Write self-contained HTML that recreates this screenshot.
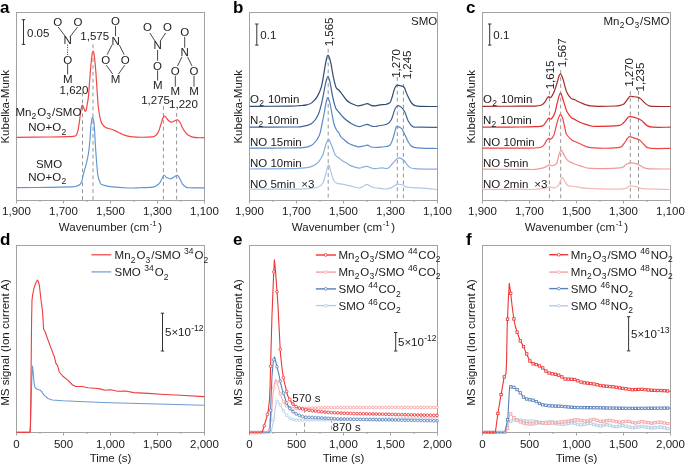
<!DOCTYPE html>
<html><head><meta charset="utf-8"><style>
html,body{margin:0;padding:0;background:#fff;}
svg{display:block;font-family:"Liberation Sans", sans-serif;filter:blur(0.3px);}
</style></head><body>
<svg width="685" height="465" viewBox="0 0 685 465">
<rect width="685" height="465" fill="#fff"/>
<rect x="16.5" y="12.5" width="188" height="188.0" fill="none" stroke="#a2a2a2" stroke-width="1"/>
<rect x="16.5" y="245.5" width="188" height="187.0" fill="none" stroke="#a2a2a2" stroke-width="1"/>
<rect x="249.5" y="12.5" width="188" height="188.0" fill="none" stroke="#a2a2a2" stroke-width="1"/>
<rect x="249.5" y="245.5" width="188" height="187.0" fill="none" stroke="#a2a2a2" stroke-width="1"/>
<rect x="482.5" y="12.5" width="188" height="188.0" fill="none" stroke="#a2a2a2" stroke-width="1"/>
<rect x="482.5" y="245.5" width="188" height="187.0" fill="none" stroke="#a2a2a2" stroke-width="1"/>
<text x="0.0" y="12.7" font-size="17" text-anchor="start" font-weight="bold" fill="#000" >a</text>
<text x="233.0" y="12.7" font-size="17" text-anchor="start" font-weight="bold" fill="#000" >b</text>
<text x="466.0" y="12.7" font-size="17" text-anchor="start" font-weight="bold" fill="#000" >c</text>
<text x="0.0" y="245.2" font-size="17" text-anchor="start" font-weight="bold" fill="#000" >d</text>
<text x="233.0" y="245.2" font-size="17" text-anchor="start" font-weight="bold" fill="#000" >e</text>
<text x="466.0" y="245.2" font-size="17" text-anchor="start" font-weight="bold" fill="#000" >f</text>
<line x1="16.50" y1="200.5" x2="16.50" y2="203.5" stroke="#a2a2a2" stroke-width="1"/>
<text x="16.50" y="215.1" font-size="11.5" text-anchor="middle" font-weight="normal" fill="#1a1a1a" >1,900</text>
<line x1="63.50" y1="200.5" x2="63.50" y2="203.5" stroke="#a2a2a2" stroke-width="1"/>
<text x="63.50" y="215.1" font-size="11.5" text-anchor="middle" font-weight="normal" fill="#1a1a1a" >1,700</text>
<line x1="110.50" y1="200.5" x2="110.50" y2="203.5" stroke="#a2a2a2" stroke-width="1"/>
<text x="110.50" y="215.1" font-size="11.5" text-anchor="middle" font-weight="normal" fill="#1a1a1a" >1,500</text>
<line x1="157.50" y1="200.5" x2="157.50" y2="203.5" stroke="#a2a2a2" stroke-width="1"/>
<text x="157.50" y="215.1" font-size="11.5" text-anchor="middle" font-weight="normal" fill="#1a1a1a" >1,300</text>
<line x1="204.50" y1="200.5" x2="204.50" y2="203.5" stroke="#a2a2a2" stroke-width="1"/>
<text x="204.50" y="215.1" font-size="11.5" text-anchor="middle" font-weight="normal" fill="#1a1a1a" >1,100</text>
<line x1="40.00" y1="200.5" x2="40.00" y2="202.0" stroke="#a2a2a2" stroke-width="1"/>
<line x1="87.00" y1="200.5" x2="87.00" y2="202.0" stroke="#a2a2a2" stroke-width="1"/>
<line x1="134.00" y1="200.5" x2="134.00" y2="202.0" stroke="#a2a2a2" stroke-width="1"/>
<line x1="181.00" y1="200.5" x2="181.00" y2="202.0" stroke="#a2a2a2" stroke-width="1"/>
<line x1="16.50" y1="432.5" x2="16.50" y2="435.5" stroke="#a2a2a2" stroke-width="1"/>
<text x="16.50" y="447.7" font-size="11.5" text-anchor="middle" font-weight="normal" fill="#1a1a1a" >0</text>
<line x1="63.50" y1="432.5" x2="63.50" y2="435.5" stroke="#a2a2a2" stroke-width="1"/>
<text x="63.50" y="447.7" font-size="11.5" text-anchor="middle" font-weight="normal" fill="#1a1a1a" >500</text>
<line x1="110.50" y1="432.5" x2="110.50" y2="435.5" stroke="#a2a2a2" stroke-width="1"/>
<text x="110.50" y="447.7" font-size="11.5" text-anchor="middle" font-weight="normal" fill="#1a1a1a" >1,000</text>
<line x1="157.50" y1="432.5" x2="157.50" y2="435.5" stroke="#a2a2a2" stroke-width="1"/>
<text x="157.50" y="447.7" font-size="11.5" text-anchor="middle" font-weight="normal" fill="#1a1a1a" >1,500</text>
<line x1="204.50" y1="432.5" x2="204.50" y2="435.5" stroke="#a2a2a2" stroke-width="1"/>
<text x="204.50" y="447.7" font-size="11.5" text-anchor="middle" font-weight="normal" fill="#1a1a1a" >2,000</text>
<line x1="40.00" y1="432.5" x2="40.00" y2="434.0" stroke="#a2a2a2" stroke-width="1"/>
<line x1="87.00" y1="432.5" x2="87.00" y2="434.0" stroke="#a2a2a2" stroke-width="1"/>
<line x1="134.00" y1="432.5" x2="134.00" y2="434.0" stroke="#a2a2a2" stroke-width="1"/>
<line x1="181.00" y1="432.5" x2="181.00" y2="434.0" stroke="#a2a2a2" stroke-width="1"/>
<text x="110.5" y="230.8" font-size="11.5" text-anchor="middle" fill="#1a1a1a">Wavenumber (cm<tspan dy="-4.6" font-size="8" dx="0.5">-1</tspan><tspan dy="4.6" dx="1.5">)</tspan></text>
<text x="110.5" y="461.7" font-size="11.5" text-anchor="middle" font-weight="normal" fill="#1a1a1a" >Time (s)</text>
<text x="0" y="0" font-size="11.5" text-anchor="middle" fill="#1a1a1a" transform="translate(8.7,106.8) rotate(-90)">Kubelka-Munk</text>
<text x="0" y="0" font-size="11.5" text-anchor="middle" fill="#1a1a1a" transform="translate(8.7,342.5) rotate(-90)">MS signal (Ion current A)</text>
<line x1="249.50" y1="200.5" x2="249.50" y2="203.5" stroke="#a2a2a2" stroke-width="1"/>
<text x="249.50" y="215.1" font-size="11.5" text-anchor="middle" font-weight="normal" fill="#1a1a1a" >1,900</text>
<line x1="296.50" y1="200.5" x2="296.50" y2="203.5" stroke="#a2a2a2" stroke-width="1"/>
<text x="296.50" y="215.1" font-size="11.5" text-anchor="middle" font-weight="normal" fill="#1a1a1a" >1,700</text>
<line x1="343.50" y1="200.5" x2="343.50" y2="203.5" stroke="#a2a2a2" stroke-width="1"/>
<text x="343.50" y="215.1" font-size="11.5" text-anchor="middle" font-weight="normal" fill="#1a1a1a" >1,500</text>
<line x1="390.50" y1="200.5" x2="390.50" y2="203.5" stroke="#a2a2a2" stroke-width="1"/>
<text x="390.50" y="215.1" font-size="11.5" text-anchor="middle" font-weight="normal" fill="#1a1a1a" >1,300</text>
<line x1="437.50" y1="200.5" x2="437.50" y2="203.5" stroke="#a2a2a2" stroke-width="1"/>
<text x="437.50" y="215.1" font-size="11.5" text-anchor="middle" font-weight="normal" fill="#1a1a1a" >1,100</text>
<line x1="273.00" y1="200.5" x2="273.00" y2="202.0" stroke="#a2a2a2" stroke-width="1"/>
<line x1="320.00" y1="200.5" x2="320.00" y2="202.0" stroke="#a2a2a2" stroke-width="1"/>
<line x1="367.00" y1="200.5" x2="367.00" y2="202.0" stroke="#a2a2a2" stroke-width="1"/>
<line x1="414.00" y1="200.5" x2="414.00" y2="202.0" stroke="#a2a2a2" stroke-width="1"/>
<line x1="249.50" y1="432.5" x2="249.50" y2="435.5" stroke="#a2a2a2" stroke-width="1"/>
<text x="249.50" y="447.7" font-size="11.5" text-anchor="middle" font-weight="normal" fill="#1a1a1a" >0</text>
<line x1="296.50" y1="432.5" x2="296.50" y2="435.5" stroke="#a2a2a2" stroke-width="1"/>
<text x="296.50" y="447.7" font-size="11.5" text-anchor="middle" font-weight="normal" fill="#1a1a1a" >500</text>
<line x1="343.50" y1="432.5" x2="343.50" y2="435.5" stroke="#a2a2a2" stroke-width="1"/>
<text x="343.50" y="447.7" font-size="11.5" text-anchor="middle" font-weight="normal" fill="#1a1a1a" >1,000</text>
<line x1="390.50" y1="432.5" x2="390.50" y2="435.5" stroke="#a2a2a2" stroke-width="1"/>
<text x="390.50" y="447.7" font-size="11.5" text-anchor="middle" font-weight="normal" fill="#1a1a1a" >1,500</text>
<line x1="437.50" y1="432.5" x2="437.50" y2="435.5" stroke="#a2a2a2" stroke-width="1"/>
<text x="437.50" y="447.7" font-size="11.5" text-anchor="middle" font-weight="normal" fill="#1a1a1a" >2,000</text>
<line x1="273.00" y1="432.5" x2="273.00" y2="434.0" stroke="#a2a2a2" stroke-width="1"/>
<line x1="320.00" y1="432.5" x2="320.00" y2="434.0" stroke="#a2a2a2" stroke-width="1"/>
<line x1="367.00" y1="432.5" x2="367.00" y2="434.0" stroke="#a2a2a2" stroke-width="1"/>
<line x1="414.00" y1="432.5" x2="414.00" y2="434.0" stroke="#a2a2a2" stroke-width="1"/>
<text x="343.5" y="230.8" font-size="11.5" text-anchor="middle" fill="#1a1a1a">Wavenumber (cm<tspan dy="-4.6" font-size="8" dx="0.5">-1</tspan><tspan dy="4.6" dx="1.5">)</tspan></text>
<text x="343.5" y="461.7" font-size="11.5" text-anchor="middle" font-weight="normal" fill="#1a1a1a" >Time (s)</text>
<text x="0" y="0" font-size="11.5" text-anchor="middle" fill="#1a1a1a" transform="translate(241.7,106.8) rotate(-90)">Kubelka-Munk</text>
<text x="0" y="0" font-size="11.5" text-anchor="middle" fill="#1a1a1a" transform="translate(241.7,342.5) rotate(-90)">MS signal (Ion current A)</text>
<line x1="482.50" y1="200.5" x2="482.50" y2="203.5" stroke="#a2a2a2" stroke-width="1"/>
<text x="482.50" y="215.1" font-size="11.5" text-anchor="middle" font-weight="normal" fill="#1a1a1a" >1,900</text>
<line x1="529.50" y1="200.5" x2="529.50" y2="203.5" stroke="#a2a2a2" stroke-width="1"/>
<text x="529.50" y="215.1" font-size="11.5" text-anchor="middle" font-weight="normal" fill="#1a1a1a" >1,700</text>
<line x1="576.50" y1="200.5" x2="576.50" y2="203.5" stroke="#a2a2a2" stroke-width="1"/>
<text x="576.50" y="215.1" font-size="11.5" text-anchor="middle" font-weight="normal" fill="#1a1a1a" >1,500</text>
<line x1="623.50" y1="200.5" x2="623.50" y2="203.5" stroke="#a2a2a2" stroke-width="1"/>
<text x="623.50" y="215.1" font-size="11.5" text-anchor="middle" font-weight="normal" fill="#1a1a1a" >1,300</text>
<line x1="670.50" y1="200.5" x2="670.50" y2="203.5" stroke="#a2a2a2" stroke-width="1"/>
<text x="670.50" y="215.1" font-size="11.5" text-anchor="middle" font-weight="normal" fill="#1a1a1a" >1,100</text>
<line x1="506.00" y1="200.5" x2="506.00" y2="202.0" stroke="#a2a2a2" stroke-width="1"/>
<line x1="553.00" y1="200.5" x2="553.00" y2="202.0" stroke="#a2a2a2" stroke-width="1"/>
<line x1="600.00" y1="200.5" x2="600.00" y2="202.0" stroke="#a2a2a2" stroke-width="1"/>
<line x1="647.00" y1="200.5" x2="647.00" y2="202.0" stroke="#a2a2a2" stroke-width="1"/>
<line x1="482.50" y1="432.5" x2="482.50" y2="435.5" stroke="#a2a2a2" stroke-width="1"/>
<text x="482.50" y="447.7" font-size="11.5" text-anchor="middle" font-weight="normal" fill="#1a1a1a" >0</text>
<line x1="529.50" y1="432.5" x2="529.50" y2="435.5" stroke="#a2a2a2" stroke-width="1"/>
<text x="529.50" y="447.7" font-size="11.5" text-anchor="middle" font-weight="normal" fill="#1a1a1a" >500</text>
<line x1="576.50" y1="432.5" x2="576.50" y2="435.5" stroke="#a2a2a2" stroke-width="1"/>
<text x="576.50" y="447.7" font-size="11.5" text-anchor="middle" font-weight="normal" fill="#1a1a1a" >1,000</text>
<line x1="623.50" y1="432.5" x2="623.50" y2="435.5" stroke="#a2a2a2" stroke-width="1"/>
<text x="623.50" y="447.7" font-size="11.5" text-anchor="middle" font-weight="normal" fill="#1a1a1a" >1,500</text>
<line x1="670.50" y1="432.5" x2="670.50" y2="435.5" stroke="#a2a2a2" stroke-width="1"/>
<text x="670.50" y="447.7" font-size="11.5" text-anchor="middle" font-weight="normal" fill="#1a1a1a" >2,000</text>
<line x1="506.00" y1="432.5" x2="506.00" y2="434.0" stroke="#a2a2a2" stroke-width="1"/>
<line x1="553.00" y1="432.5" x2="553.00" y2="434.0" stroke="#a2a2a2" stroke-width="1"/>
<line x1="600.00" y1="432.5" x2="600.00" y2="434.0" stroke="#a2a2a2" stroke-width="1"/>
<line x1="647.00" y1="432.5" x2="647.00" y2="434.0" stroke="#a2a2a2" stroke-width="1"/>
<text x="576.5" y="230.8" font-size="11.5" text-anchor="middle" fill="#1a1a1a">Wavenumber (cm<tspan dy="-4.6" font-size="8" dx="0.5">-1</tspan><tspan dy="4.6" dx="1.5">)</tspan></text>
<text x="576.5" y="461.7" font-size="11.5" text-anchor="middle" font-weight="normal" fill="#1a1a1a" >Time (s)</text>
<text x="0" y="0" font-size="11.5" text-anchor="middle" fill="#1a1a1a" transform="translate(474.7,106.8) rotate(-90)">Kubelka-Munk</text>
<text x="0" y="0" font-size="11.5" text-anchor="middle" fill="#1a1a1a" transform="translate(474.7,342.5) rotate(-90)">MS signal (Ion current A)</text>
<line x1="82.5" y1="92.6" x2="82.5" y2="200" stroke="#959595" stroke-width="1" stroke-dasharray="3.8,3.1"/>
<line x1="93.0" y1="44.3" x2="93.0" y2="200" stroke="#959595" stroke-width="1" stroke-dasharray="3.8,3.1"/>
<line x1="163.4" y1="106.1" x2="163.4" y2="200" stroke="#959595" stroke-width="1" stroke-dasharray="3.8,3.1"/>
<line x1="176.6" y1="113.0" x2="176.6" y2="200" stroke="#959595" stroke-width="1" stroke-dasharray="3.8,3.1"/>
<line x1="23.5" y1="19.7" x2="23.5" y2="44.4" stroke="#333" stroke-width="1"/>
<line x1="21.8" y1="19.7" x2="25.2" y2="19.7" stroke="#333" stroke-width="1"/>
<line x1="21.8" y1="44.4" x2="25.2" y2="44.4" stroke="#333" stroke-width="1"/>
<text x="27" y="36.9" font-size="11.5" text-anchor="start" font-weight="normal" fill="#1a1a1a" >0.05</text>
<path d="M17.00,137.30 C22.50,137.25 41.50,137.12 50.00,137.00 C58.50,136.88 63.85,136.75 68.00,136.60 C72.15,136.45 73.43,136.50 74.90,136.10 C76.37,135.70 76.23,135.40 76.80,134.20 C77.37,133.00 77.83,131.23 78.30,128.90 C78.77,126.57 79.20,123.10 79.60,120.20 C80.00,117.30 80.35,113.77 80.70,111.50 C81.05,109.23 81.38,107.65 81.70,106.60 C82.02,105.55 82.25,104.95 82.60,105.20 C82.95,105.45 83.38,107.08 83.80,108.10 C84.22,109.12 84.68,111.07 85.10,111.30 C85.52,111.53 85.90,110.93 86.30,109.50 C86.70,108.07 87.13,104.95 87.50,102.70 C87.87,100.45 88.02,101.28 88.50,96.00 C88.98,90.72 89.82,77.83 90.40,71.00 C90.98,64.17 91.55,58.33 92.00,55.00 C92.45,51.67 92.73,51.00 93.10,51.00 C93.47,51.00 93.77,51.83 94.20,55.00 C94.63,58.17 95.20,63.83 95.70,70.00 C96.20,76.17 96.80,86.22 97.20,92.00 C97.60,97.78 97.70,100.78 98.10,104.70 C98.50,108.62 99.12,112.70 99.60,115.50 C100.08,118.30 100.50,119.98 101.00,121.50 C101.50,123.02 101.88,123.65 102.60,124.60 C103.32,125.55 104.42,126.58 105.30,127.20 C106.18,127.82 106.88,127.97 107.90,128.30 C108.92,128.63 110.38,128.87 111.40,129.20 C112.42,129.53 112.98,129.83 114.00,130.30 C115.02,130.77 116.33,131.45 117.50,132.00 C118.67,132.55 119.83,133.08 121.00,133.60 C122.17,134.12 123.33,134.67 124.50,135.10 C125.67,135.53 125.98,135.85 128.00,136.20 C130.02,136.55 132.53,137.10 136.60,137.20 C140.67,137.30 149.12,137.20 152.40,136.80 C155.68,136.40 155.23,135.77 156.30,134.80 C157.37,133.83 158.02,132.80 158.80,131.00 C159.58,129.20 160.33,126.08 161.00,124.00 C161.67,121.92 162.25,119.82 162.80,118.50 C163.35,117.18 163.72,116.22 164.30,116.10 C164.88,115.98 165.55,117.02 166.30,117.80 C167.05,118.58 167.95,120.07 168.80,120.80 C169.65,121.53 170.48,122.17 171.40,122.20 C172.32,122.23 173.27,121.40 174.30,121.00 C175.33,120.60 176.63,119.55 177.60,119.80 C178.57,120.05 179.27,121.13 180.10,122.50 C180.93,123.87 181.65,126.28 182.60,128.00 C183.55,129.72 184.73,131.53 185.80,132.80 C186.87,134.07 187.83,134.88 189.00,135.60 C190.17,136.32 191.37,136.75 192.80,137.10 C194.23,137.45 195.73,137.60 197.60,137.70 C199.47,137.80 202.93,137.70 204.00,137.70" fill="none" stroke="#f24646" stroke-width="1.2" stroke-linejoin="round" stroke-linecap="round" />
<path d="M17.00,187.60 C22.50,187.57 41.17,187.52 50.00,187.40 C58.83,187.28 65.75,187.05 70.00,186.90 C74.25,186.75 73.85,186.90 75.50,186.50 C77.15,186.10 78.85,185.37 79.90,184.50 C80.95,183.63 81.27,182.80 81.80,181.30 C82.33,179.80 82.45,178.08 83.10,175.50 C83.75,172.92 84.95,168.70 85.70,165.80 C86.45,162.90 87.07,160.68 87.60,158.10 C88.13,155.52 88.52,153.32 88.90,150.30 C89.28,147.28 89.57,144.05 89.90,140.00 C90.23,135.95 90.58,129.42 90.90,126.00 C91.22,122.58 91.53,120.98 91.80,119.50 C92.07,118.02 92.25,117.10 92.50,117.10 C92.75,117.10 93.00,118.02 93.30,119.50 C93.60,120.98 93.95,121.75 94.30,126.00 C94.65,130.25 95.02,139.00 95.40,145.00 C95.78,151.00 96.18,156.92 96.60,162.00 C97.02,167.08 97.35,172.17 97.90,175.50 C98.45,178.83 99.27,180.48 99.90,182.00 C100.53,183.52 100.02,183.83 101.70,184.60 C103.38,185.37 105.62,186.03 110.00,186.60 C114.38,187.17 123.00,187.82 128.00,188.00 C133.00,188.18 135.97,187.85 140.00,187.70 C144.03,187.55 149.52,187.42 152.20,187.10 C154.88,186.78 154.83,186.52 156.10,185.80 C157.37,185.08 158.80,184.02 159.80,182.80 C160.80,181.58 161.38,179.75 162.10,178.50 C162.82,177.25 163.35,175.47 164.10,175.30 C164.85,175.13 165.53,176.88 166.60,177.50 C167.67,178.12 169.25,179.08 170.50,179.00 C171.75,178.92 172.95,177.62 174.10,177.00 C175.25,176.38 176.43,174.97 177.40,175.30 C178.37,175.63 179.07,177.57 179.90,179.00 C180.73,180.43 181.45,182.60 182.40,183.90 C183.35,185.20 184.53,186.15 185.60,186.80 C186.67,187.45 185.73,187.63 188.80,187.80 C191.87,187.97 201.47,187.80 204.00,187.80" fill="none" stroke="#5f95d5" stroke-width="1.15" stroke-linejoin="round" stroke-linecap="round" />
<text x="48.4" y="115.6" font-size="11.5" text-anchor="middle" font-weight="normal" fill="#1a1a1a" >Mn<tspan font-size="8.5" dx="0.2" dy="3.40">2</tspan><tspan dx="0.9" dy="-3.40">O</tspan><tspan font-size="8.5" dx="0.2" dy="3.40">3</tspan><tspan dx="0.9" dy="-3.40">/SMO</tspan></text>
<text x="47.2" y="131.4" font-size="11.5" text-anchor="middle" font-weight="normal" fill="#1a1a1a" >NO+O<tspan font-size="8.5" dx="0.2" dy="3.40">2</tspan></text>
<text x="49.0" y="167.7" font-size="11.5" text-anchor="middle" font-weight="normal" fill="#1a1a1a" >SMO</text>
<text x="47.2" y="180.9" font-size="11.5" text-anchor="middle" font-weight="normal" fill="#1a1a1a" >NO+O<tspan font-size="8.5" dx="0.2" dy="3.40">2</tspan></text>
<text x="94.7" y="40.1" font-size="11.5" text-anchor="middle" font-weight="normal" fill="#1a1a1a" >1,575</text>
<text x="74.0" y="93.7" font-size="11.5" text-anchor="middle" font-weight="normal" fill="#1a1a1a" >1,620</text>
<text x="155.6" y="104.4" font-size="11.5" text-anchor="middle" font-weight="normal" fill="#1a1a1a" >1,275</text>
<text x="183.5" y="108.2" font-size="11.5" text-anchor="middle" font-weight="normal" fill="#1a1a1a" >1,220</text>
<text x="57.8" y="25.7" font-size="11.5" text-anchor="middle" font-weight="normal" fill="#222" >O</text>
<text x="78" y="25.7" font-size="11.5" text-anchor="middle" font-weight="normal" fill="#222" >O</text>
<text x="67.6" y="44.2" font-size="11.5" text-anchor="middle" font-weight="normal" fill="#222" >N</text>
<text x="67.8" y="63.8" font-size="11.5" text-anchor="middle" font-weight="normal" fill="#222" >O</text>
<text x="67.9" y="83.4" font-size="11.5" text-anchor="middle" font-weight="normal" fill="#222" >M</text>
<line x1="58.2" y1="27" x2="65.1" y2="36.1" stroke="#333" stroke-width="0.9"/>
<line x1="77.5" y1="27" x2="70.2" y2="36.5" stroke="#333" stroke-width="0.9"/>
<line x1="67.6" y1="44.5" x2="67.6" y2="55" stroke="#333" stroke-width="0.9" stroke-dasharray="1.2,1.2"/>
<line x1="67.6" y1="64.1" x2="67.6" y2="74.5" stroke="#333" stroke-width="0.9"/>
<text x="115.6" y="25.4" font-size="11.5" text-anchor="middle" font-weight="normal" fill="#222" >O</text>
<text x="115.6" y="44.6" font-size="11.5" text-anchor="middle" font-weight="normal" fill="#222" >N</text>
<text x="105.7" y="63.9" font-size="11.5" text-anchor="middle" font-weight="normal" fill="#222" >O</text>
<text x="125.3" y="63.9" font-size="11.5" text-anchor="middle" font-weight="normal" fill="#222" >O</text>
<text x="115.6" y="83.0" font-size="11.5" text-anchor="middle" font-weight="normal" fill="#222" >M</text>
<line x1="115.5" y1="25.8" x2="115.5" y2="36.2" stroke="#333" stroke-width="0.9"/>
<line x1="111.9" y1="45.1" x2="107.1" y2="54.7" stroke="#333" stroke-width="0.9"/>
<line x1="119.4" y1="45.1" x2="124.2" y2="54.7" stroke="#333" stroke-width="0.9"/>
<line x1="106.3" y1="65.2" x2="112.7" y2="74.1" stroke="#333" stroke-width="0.9"/>
<line x1="124.7" y1="65.2" x2="118.5" y2="74.1" stroke="#333" stroke-width="0.9"/>
<text x="147.6" y="31.2" font-size="11.5" text-anchor="middle" font-weight="normal" fill="#222" >O</text>
<text x="167.5" y="31.2" font-size="11.5" text-anchor="middle" font-weight="normal" fill="#222" >O</text>
<text x="157.6" y="49.3" font-size="11.5" text-anchor="middle" font-weight="normal" fill="#222" >N</text>
<text x="157.5" y="69.5" font-size="11.5" text-anchor="middle" font-weight="normal" fill="#222" >O</text>
<text x="157.7" y="89.4" font-size="11.5" text-anchor="middle" font-weight="normal" fill="#222" >M</text>
<line x1="149.8" y1="33" x2="155" y2="41" stroke="#333" stroke-width="0.9"/>
<line x1="165.6" y1="33" x2="160.3" y2="41" stroke="#333" stroke-width="0.9"/>
<line x1="157.6" y1="50" x2="157.6" y2="60.8" stroke="#333" stroke-width="0.9"/>
<line x1="157.6" y1="70.3" x2="157.6" y2="80.6" stroke="#333" stroke-width="0.9"/>
<text x="184.7" y="36.3" font-size="11.5" text-anchor="middle" font-weight="normal" fill="#222" >O</text>
<text x="184.7" y="56.2" font-size="11.5" text-anchor="middle" font-weight="normal" fill="#222" >N</text>
<text x="175.3" y="75.0" font-size="11.5" text-anchor="middle" font-weight="normal" fill="#222" >O</text>
<text x="194" y="75.0" font-size="11.5" text-anchor="middle" font-weight="normal" fill="#222" >O</text>
<text x="175.3" y="95.4" font-size="11.5" text-anchor="middle" font-weight="normal" fill="#222" >M</text>
<text x="194" y="95.4" font-size="11.5" text-anchor="middle" font-weight="normal" fill="#222" >M</text>
<line x1="184.7" y1="36.8" x2="184.7" y2="47.8" stroke="#333" stroke-width="0.9"/>
<line x1="182" y1="56.8" x2="177.5" y2="66" stroke="#333" stroke-width="0.9"/>
<line x1="187.5" y1="56.8" x2="192" y2="66" stroke="#333" stroke-width="0.9"/>
<line x1="175.3" y1="75.6" x2="175.3" y2="86.6" stroke="#333" stroke-width="0.9"/>
<line x1="194" y1="75.6" x2="194" y2="86.6" stroke="#333" stroke-width="0.9"/>
<line x1="328.2" y1="48.8" x2="328.2" y2="200" stroke="#959595" stroke-width="1" stroke-dasharray="3.8,3.1"/>
<line x1="397.3" y1="77.0" x2="397.3" y2="200" stroke="#959595" stroke-width="1" stroke-dasharray="3.8,3.1"/>
<line x1="403.4" y1="84.0" x2="403.4" y2="200" stroke="#959595" stroke-width="1" stroke-dasharray="3.8,3.1"/>
<line x1="256.8" y1="24.0" x2="256.8" y2="45.1" stroke="#333" stroke-width="1"/>
<line x1="255.10000000000002" y1="24.0" x2="258.5" y2="24.0" stroke="#333" stroke-width="1"/>
<line x1="255.10000000000002" y1="45.1" x2="258.5" y2="45.1" stroke="#333" stroke-width="1"/>
<text x="260.3" y="39.0" font-size="11.5" text-anchor="start" font-weight="normal" fill="#1a1a1a" >0.1</text>
<text x="437.2" y="25.2" font-size="11.5" text-anchor="end" font-weight="normal" fill="#1a1a1a" >SMO</text>
<text x="0" y="0" font-size="11.5" text-anchor="middle" fill="#1a1a1a" transform="translate(332.7,31.9) rotate(-90)">1,565</text>
<text x="0" y="0" font-size="11.5" text-anchor="middle" fill="#1a1a1a" transform="translate(399.6,63.4) rotate(-90)">1,270</text>
<text x="0" y="0" font-size="11.5" text-anchor="middle" fill="#1a1a1a" transform="translate(410.5,64.9) rotate(-90)">1,245</text>
<path d="M250.00,189.20 C256.67,189.18 280.83,189.17 290.00,189.10 C299.17,189.03 300.40,189.10 305.00,188.80 C309.60,188.50 314.67,188.18 317.60,187.30 C320.53,186.42 321.25,185.72 322.60,183.50 C323.95,181.28 324.70,177.12 325.70,174.00 C326.70,170.88 327.72,165.12 328.60,164.80 C329.48,164.48 330.15,169.47 331.00,172.10 C331.85,174.73 332.77,178.77 333.70,180.60 C334.63,182.43 335.02,182.47 336.60,183.10 C338.18,183.73 340.68,183.87 343.20,184.40 C345.72,184.93 349.02,185.70 351.70,186.30 C354.38,186.90 357.33,188.02 359.30,188.00 C361.27,187.98 362.23,186.80 363.50,186.20 C364.77,185.60 365.38,184.22 366.90,184.40 C368.42,184.58 370.70,186.67 372.60,187.30 C374.50,187.93 376.08,187.92 378.30,188.20 C380.52,188.48 383.68,189.10 385.90,189.00 C388.12,188.90 389.70,188.37 391.60,187.60 C393.50,186.83 395.40,184.83 397.30,184.40 C399.20,183.97 401.58,184.58 403.00,185.00 C404.42,185.42 404.22,186.47 405.80,186.90 C407.38,187.33 409.48,187.38 412.50,187.60 C415.52,187.82 419.82,187.88 423.90,188.20 C427.98,188.52 434.82,189.28 437.00,189.50" fill="none" stroke="#abc8e9" stroke-width="1.2" stroke-linejoin="round" stroke-linecap="round" />
<path d="M250.00,169.00 C256.67,168.93 281.67,168.73 290.00,168.60 C298.33,168.47 296.72,168.45 300.00,168.20 C303.28,167.95 306.77,167.97 309.70,167.10 C312.63,166.23 315.50,164.85 317.60,163.00 C319.70,161.15 321.20,158.08 322.30,156.00 C323.40,153.92 323.57,152.52 324.20,150.50 C324.83,148.48 325.37,145.75 326.10,143.90 C326.83,142.05 327.78,139.40 328.60,139.40 C329.42,139.40 330.12,141.87 331.00,143.90 C331.88,145.93 333.13,149.67 333.90,151.60 C334.67,153.53 334.80,154.47 335.60,155.50 C336.40,156.53 337.58,156.93 338.70,157.80 C339.82,158.67 341.02,159.83 342.30,160.70 C343.58,161.57 345.15,162.22 346.40,163.00 C347.65,163.78 348.53,164.77 349.80,165.40 C351.07,166.03 352.42,166.35 354.00,166.80 C355.58,167.25 357.80,168.07 359.30,168.10 C360.80,168.13 361.73,167.28 363.00,167.00 C364.27,166.72 365.65,166.30 366.90,166.40 C368.15,166.50 369.23,167.23 370.50,167.60 C371.77,167.97 372.57,168.55 374.50,168.60 C376.43,168.65 379.88,167.95 382.10,167.90 C384.32,167.85 386.07,169.03 387.80,168.30 C389.53,167.57 390.92,165.15 392.50,163.50 C394.08,161.85 395.87,159.25 397.30,158.40 C398.73,157.55 399.83,157.87 401.10,158.40 C402.37,158.93 403.63,160.27 404.90,161.60 C406.17,162.93 407.12,165.22 408.70,166.40 C410.28,167.58 409.68,168.23 414.40,168.70 C419.12,169.17 433.23,169.12 437.00,169.20" fill="none" stroke="#86addc" stroke-width="1.2" stroke-linejoin="round" stroke-linecap="round" />
<path d="M250.00,148.20 C256.67,148.17 281.67,148.07 290.00,148.00 C298.33,147.93 297.05,148.00 300.00,147.80 C302.95,147.60 305.45,147.45 307.70,146.80 C309.95,146.15 311.55,145.83 313.50,143.90 C315.45,141.97 317.98,138.52 319.40,135.20 C320.82,131.88 321.20,127.70 322.00,124.00 C322.80,120.30 323.50,116.67 324.20,113.00 C324.90,109.33 325.57,104.57 326.20,102.00 C326.83,99.43 327.33,97.22 328.00,97.60 C328.67,97.98 329.53,101.57 330.20,104.30 C330.87,107.03 331.37,110.72 332.00,114.00 C332.63,117.28 333.25,121.33 334.00,124.00 C334.75,126.67 335.72,128.58 336.50,130.00 C337.28,131.42 337.95,131.33 338.70,132.50 C339.45,133.67 340.12,135.83 341.00,137.00 C341.88,138.17 342.77,138.45 344.00,139.50 C345.23,140.55 346.90,142.35 348.40,143.30 C349.90,144.25 351.38,144.62 353.00,145.20 C354.62,145.78 356.43,146.63 358.10,146.80 C359.77,146.97 361.43,146.47 363.00,146.20 C364.57,145.93 366.17,145.07 367.50,145.20 C368.83,145.33 369.72,146.62 371.00,147.00 C372.28,147.38 373.70,147.47 375.20,147.50 C376.70,147.53 377.70,147.48 380.00,147.20 C382.30,146.92 386.93,146.98 389.00,145.80 C391.07,144.62 391.27,143.00 392.40,140.10 C393.53,137.20 395.05,130.65 395.80,128.40 C396.55,126.15 395.97,126.60 396.90,126.60 C397.83,126.60 400.08,127.08 401.40,128.40 C402.72,129.72 403.48,131.98 404.80,134.50 C406.12,137.02 407.60,141.32 409.30,143.50 C411.00,145.68 410.38,146.77 415.00,147.60 C419.62,148.43 433.33,148.35 437.00,148.50" fill="none" stroke="#5a8bc8" stroke-width="1.2" stroke-linejoin="round" stroke-linecap="round" />
<path d="M250.00,127.20 C256.67,127.17 281.67,127.07 290.00,127.00 C298.33,126.93 297.12,127.07 300.00,126.80 C302.88,126.53 305.17,126.10 307.30,125.40 C309.43,124.70 310.97,124.43 312.80,122.60 C314.63,120.77 316.77,117.90 318.30,114.40 C319.83,110.90 320.78,106.78 322.00,101.60 C323.22,96.42 324.60,87.52 325.60,83.30 C326.60,79.08 327.23,76.30 328.00,76.30 C328.77,76.30 329.38,79.70 330.20,83.30 C331.02,86.90 331.98,93.78 332.90,97.90 C333.82,102.02 334.78,105.72 335.70,108.00 C336.62,110.28 337.03,109.93 338.40,111.60 C339.77,113.27 341.77,116.02 343.90,118.00 C346.03,119.98 348.78,122.08 351.20,123.50 C353.62,124.92 356.43,126.17 358.40,126.50 C360.37,126.83 361.48,125.87 363.00,125.50 C364.52,125.13 366.17,124.22 367.50,124.30 C368.83,124.38 369.72,125.63 371.00,126.00 C372.28,126.37 373.70,126.58 375.20,126.50 C376.70,126.42 378.07,125.87 380.00,125.50 C381.93,125.13 384.92,125.25 386.80,124.30 C388.68,123.35 389.98,122.23 391.30,119.80 C392.62,117.37 393.65,112.03 394.70,109.70 C395.75,107.37 396.48,106.18 397.60,105.80 C398.72,105.42 400.20,106.38 401.40,107.40 C402.60,108.42 403.67,109.63 404.80,111.90 C405.93,114.17 406.88,118.55 408.20,121.00 C409.52,123.45 410.73,125.57 412.70,126.60 C414.67,127.63 415.95,127.08 420.00,127.20 C424.05,127.32 434.17,127.28 437.00,127.30" fill="none" stroke="#3e6599" stroke-width="1.2" stroke-linejoin="round" stroke-linecap="round" />
<path d="M250.00,106.30 C256.67,106.27 281.67,106.22 290.00,106.10 C298.33,105.98 297.18,105.82 300.00,105.60 C302.82,105.38 304.90,105.30 306.90,104.80 C308.90,104.30 310.28,103.97 312.00,102.60 C313.72,101.23 315.62,99.32 317.20,96.60 C318.78,93.88 320.22,91.18 321.50,86.30 C322.78,81.42 324.05,71.93 324.90,67.30 C325.75,62.67 326.08,60.55 326.60,58.50 C327.12,56.45 327.52,55.08 328.00,55.00 C328.48,54.92 329.00,56.52 329.50,58.00 C330.00,59.48 330.33,60.62 331.00,63.90 C331.67,67.18 332.65,73.77 333.50,77.70 C334.35,81.63 335.23,85.45 336.10,87.50 C336.97,89.55 337.83,89.07 338.70,90.00 C339.57,90.93 340.02,91.43 341.30,93.10 C342.58,94.77 344.87,98.35 346.40,100.00 C347.93,101.65 349.07,102.17 350.50,103.00 C351.93,103.83 353.68,104.53 355.00,105.00 C356.32,105.47 357.07,105.83 358.40,105.80 C359.73,105.77 361.48,105.17 363.00,104.80 C364.52,104.43 366.17,103.52 367.50,103.60 C368.83,103.68 369.72,104.93 371.00,105.30 C372.28,105.67 373.70,105.88 375.20,105.80 C376.70,105.72 378.28,105.02 380.00,104.80 C381.72,104.58 384.08,104.73 385.50,104.50 C386.92,104.27 387.70,103.78 388.50,103.40 C389.30,103.02 389.73,103.12 390.30,102.20 C390.87,101.28 391.37,99.58 391.90,97.90 C392.43,96.22 392.95,93.88 393.50,92.10 C394.05,90.32 394.58,88.37 395.20,87.20 C395.82,86.03 396.45,85.35 397.20,85.10 C397.95,84.85 398.75,85.50 399.70,85.70 C400.65,85.90 402.10,85.93 402.90,86.30 C403.70,86.67 403.97,86.93 404.50,87.90 C405.03,88.87 405.52,90.65 406.10,92.10 C406.68,93.55 407.35,95.20 408.00,96.60 C408.65,98.00 409.33,99.35 410.00,100.50 C410.67,101.65 411.15,102.65 412.00,103.50 C412.85,104.35 413.77,105.12 415.10,105.60 C416.43,106.08 416.35,106.25 420.00,106.40 C423.65,106.55 434.17,106.48 437.00,106.50" fill="none" stroke="#2f4b70" stroke-width="1.2" stroke-linejoin="round" stroke-linecap="round" />
<text x="250.0" y="102.9" font-size="11.5" text-anchor="start" font-weight="normal" fill="#1a1a1a" >O<tspan font-size="8.5" dx="0.2" dy="3.40">2</tspan><tspan dx="0.9" dy="-3.40"> 10min</tspan></text>
<text x="250.0" y="123.8" font-size="11.5" text-anchor="start" font-weight="normal" fill="#1a1a1a" >N<tspan font-size="8.5" dx="0.2" dy="3.40">2</tspan><tspan dx="0.9" dy="-3.40"> 10min</tspan></text>
<text x="250.0" y="146.2" font-size="11.5" text-anchor="start" font-weight="normal" fill="#1a1a1a" >NO 15min</text>
<text x="250.0" y="167.2" font-size="11.5" text-anchor="start" font-weight="normal" fill="#1a1a1a" >NO 10min</text>
<text x="250.0" y="188.2" font-size="11.5" text-anchor="start" font-weight="normal" fill="#1a1a1a" >NO 5min <tspan dx="2.6">×3</tspan></text>
<line x1="549.4" y1="90.8" x2="549.4" y2="200" stroke="#959595" stroke-width="1" stroke-dasharray="3.8,3.1"/>
<line x1="560.7" y1="70.2" x2="560.7" y2="200" stroke="#959595" stroke-width="1" stroke-dasharray="3.8,3.1"/>
<line x1="630.3" y1="91.0" x2="630.3" y2="200" stroke="#959595" stroke-width="1" stroke-dasharray="3.8,3.1"/>
<line x1="638.5" y1="91.0" x2="638.5" y2="200" stroke="#959595" stroke-width="1" stroke-dasharray="3.8,3.1"/>
<line x1="489.7" y1="24.0" x2="489.7" y2="45.1" stroke="#333" stroke-width="1"/>
<line x1="488.0" y1="24.0" x2="491.4" y2="24.0" stroke="#333" stroke-width="1"/>
<line x1="488.0" y1="45.1" x2="491.4" y2="45.1" stroke="#333" stroke-width="1"/>
<text x="493.3" y="39.0" font-size="11.5" text-anchor="start" font-weight="normal" fill="#1a1a1a" >0.1</text>
<text x="669.5" y="24.9" font-size="11.5" text-anchor="end" font-weight="normal" fill="#1a1a1a" >Mn<tspan font-size="8.5" dx="0.2" dy="3.40">2</tspan><tspan dx="0.9" dy="-3.40">O</tspan><tspan font-size="8.5" dx="0.2" dy="3.40">3</tspan><tspan dx="0.9" dy="-3.40">/SMO</tspan></text>
<text x="0" y="0" font-size="11.5" text-anchor="middle" fill="#1a1a1a" transform="translate(554.0,74.9) rotate(-90)">1,615</text>
<text x="0" y="0" font-size="11.5" text-anchor="middle" fill="#1a1a1a" transform="translate(565.9,52.8) rotate(-90)">1,567</text>
<text x="0" y="0" font-size="11.5" text-anchor="middle" fill="#1a1a1a" transform="translate(633.2,72.4) rotate(-90)">1,270</text>
<text x="0" y="0" font-size="11.5" text-anchor="middle" fill="#1a1a1a" transform="translate(644.1,77.0) rotate(-90)">1,235</text>
<path d="M483.00,189.40 C489.17,189.40 511.33,189.40 520.00,189.40 C528.67,189.40 530.75,189.65 535.00,189.40 C539.25,189.15 543.12,188.33 545.50,187.90 C547.88,187.47 547.80,186.80 549.30,186.80 C550.80,186.80 553.00,188.10 554.50,187.90 C556.00,187.70 557.28,186.85 558.30,185.60 C559.32,184.35 559.92,181.77 560.60,180.40 C561.28,179.03 561.78,177.40 562.40,177.40 C563.02,177.40 563.35,179.03 564.30,180.40 C565.25,181.77 565.97,184.53 568.10,185.60 C570.23,186.67 573.85,186.35 577.10,186.80 C580.35,187.25 580.05,187.95 587.60,188.30 C595.15,188.65 615.47,189.30 622.40,188.90 C629.33,188.50 626.93,186.28 629.20,185.90 C631.47,185.52 633.75,186.15 636.00,186.60 C638.25,187.05 637.03,188.12 642.70,188.60 C648.37,189.08 665.45,189.35 670.00,189.50" fill="none" stroke="#f6b9b9" stroke-width="1.2" stroke-linejoin="round" stroke-linecap="round" />
<path d="M483.00,169.20 C489.17,169.22 511.33,169.27 520.00,169.30 C528.67,169.33 531.00,169.68 535.00,169.40 C539.00,169.12 542.00,168.15 544.00,167.60 C546.00,167.05 546.12,166.55 547.00,166.10 C547.88,165.65 548.42,164.95 549.30,164.90 C550.18,164.85 551.05,166.10 552.30,165.80 C553.55,165.50 555.67,165.05 556.80,163.10 C557.93,161.15 558.35,156.23 559.10,154.10 C559.85,151.97 560.55,150.30 561.30,150.30 C562.05,150.30 562.60,152.47 563.60,154.10 C564.60,155.73 565.55,158.48 567.30,160.10 C569.05,161.72 571.68,162.77 574.10,163.80 C576.52,164.83 579.02,165.53 581.80,166.30 C584.58,167.07 584.42,168.13 590.80,168.40 C597.18,168.67 614.27,168.55 620.10,167.90 C625.93,167.25 624.10,165.33 625.80,164.50 C627.50,163.67 628.60,163.05 630.30,162.90 C632.00,162.75 634.30,163.15 636.00,163.60 C637.70,164.05 638.63,164.77 640.50,165.60 C642.37,166.43 642.28,168.03 647.20,168.60 C652.12,169.17 666.20,168.93 670.00,169.00" fill="none" stroke="#f39797" stroke-width="1.2" stroke-linejoin="round" stroke-linecap="round" />
<path d="M483.00,148.20 C489.17,148.18 511.33,148.13 520.00,148.10 C528.67,148.07 531.50,148.13 535.00,148.00 C538.50,147.87 539.50,147.80 541.00,147.30 C542.50,146.80 543.00,146.25 544.00,145.00 C545.00,143.75 546.17,140.92 547.00,139.80 C547.83,138.68 548.37,138.38 549.00,138.30 C549.63,138.22 550.00,139.80 550.80,139.30 C551.60,138.80 552.85,137.68 553.80,135.30 C554.75,132.92 555.72,127.88 556.50,125.00 C557.28,122.12 557.85,119.77 558.50,118.00 C559.15,116.23 559.73,114.40 560.40,114.40 C561.07,114.40 561.82,116.07 562.50,118.00 C563.18,119.93 563.82,123.25 564.50,126.00 C565.18,128.75 565.25,132.08 566.60,134.50 C567.95,136.92 571.20,139.33 572.60,140.50 C574.00,141.67 573.50,140.83 575.00,141.50 C576.50,142.17 578.97,143.48 581.60,144.50 C584.23,145.52 584.75,147.08 590.80,147.60 C596.85,148.12 612.45,148.17 617.90,147.60 C623.35,147.03 621.92,145.72 623.50,144.20 C625.08,142.68 626.38,139.75 627.40,138.50 C628.42,137.25 628.55,136.80 629.60,136.70 C630.65,136.60 632.08,137.40 633.70,137.90 C635.32,138.40 637.62,138.65 639.30,139.70 C640.98,140.75 642.10,142.78 643.80,144.20 C645.50,145.62 645.13,147.50 649.50,148.20 C653.87,148.90 666.58,148.37 670.00,148.40" fill="none" stroke="#f04646" stroke-width="1.2" stroke-linejoin="round" stroke-linecap="round" />
<path d="M483.00,127.20 C489.17,127.17 511.33,127.08 520.00,127.00 C528.67,126.92 531.22,126.88 535.00,126.70 C538.78,126.52 540.83,126.75 542.70,125.90 C544.57,125.05 545.18,122.90 546.20,121.60 C547.22,120.30 547.95,118.53 548.80,118.10 C549.65,117.67 550.30,119.85 551.30,119.00 C552.30,118.15 553.80,115.72 554.80,113.00 C555.80,110.28 556.37,106.00 557.30,102.70 C558.23,99.40 559.38,93.50 560.40,93.20 C561.42,92.90 562.33,97.88 563.40,100.90 C564.47,103.92 565.52,108.57 566.80,111.30 C568.08,114.03 569.73,115.92 571.10,117.30 C572.47,118.68 573.22,118.65 575.00,119.60 C576.78,120.55 579.30,122.00 581.80,123.00 C584.30,124.00 587.80,125.05 590.00,125.60 C592.20,126.15 590.35,126.28 595.00,126.30 C599.65,126.32 613.15,126.30 617.90,125.70 C622.65,125.10 621.82,124.07 623.50,122.70 C625.18,121.33 626.87,118.52 628.00,117.50 C629.13,116.48 628.78,116.48 630.30,116.60 C631.82,116.72 635.22,117.55 637.10,118.20 C638.98,118.85 639.92,119.25 641.60,120.50 C643.28,121.75 645.32,124.58 647.20,125.70 C649.08,126.82 649.10,126.95 652.90,127.20 C656.70,127.45 667.15,127.20 670.00,127.20" fill="none" stroke="#e62e2e" stroke-width="1.2" stroke-linejoin="round" stroke-linecap="round" />
<path d="M483.00,106.30 C489.17,106.28 511.33,106.23 520.00,106.20 C528.67,106.17 531.50,106.27 535.00,106.10 C538.50,105.93 539.42,105.77 541.00,105.20 C542.58,104.63 543.50,103.83 544.50,102.70 C545.50,101.57 546.28,99.42 547.00,98.40 C547.72,97.38 548.17,96.75 548.80,96.60 C549.43,96.45 549.95,98.22 550.80,97.50 C551.65,96.78 552.82,94.88 553.90,92.30 C554.98,89.72 556.45,84.72 557.30,82.00 C558.15,79.28 558.48,77.37 559.00,76.00 C559.52,74.63 559.92,73.80 560.40,73.80 C560.88,73.80 561.40,74.92 561.90,76.00 C562.40,77.08 562.58,77.58 563.40,80.30 C564.22,83.02 565.52,89.28 566.80,92.30 C568.08,95.32 569.73,97.15 571.10,98.40 C572.47,99.65 573.85,99.28 575.00,99.80 C576.15,100.32 576.87,100.95 578.00,101.50 C579.13,102.05 580.37,102.52 581.80,103.10 C583.23,103.68 585.23,104.55 586.60,105.00 C587.97,105.45 588.17,105.58 590.00,105.80 C591.83,106.02 593.43,106.27 597.60,106.30 C601.77,106.33 611.27,106.15 615.00,106.00 C618.73,105.85 618.52,105.75 620.00,105.40 C621.48,105.05 622.82,104.68 623.90,103.90 C624.98,103.12 625.75,101.67 626.50,100.70 C627.25,99.73 627.82,98.83 628.40,98.10 C628.98,97.37 629.25,96.55 630.00,96.30 C630.75,96.05 631.55,96.42 632.90,96.60 C634.25,96.78 636.82,97.03 638.10,97.40 C639.38,97.77 639.75,98.13 640.60,98.80 C641.45,99.47 642.33,100.55 643.20,101.40 C644.07,102.25 644.93,103.22 645.80,103.90 C646.67,104.58 647.37,105.10 648.40,105.50 C649.43,105.90 648.40,106.13 652.00,106.30 C655.60,106.47 667.00,106.47 670.00,106.50" fill="none" stroke="#a82a2a" stroke-width="1.2" stroke-linejoin="round" stroke-linecap="round" />
<text x="483.0" y="102.9" font-size="11.5" text-anchor="start" font-weight="normal" fill="#1a1a1a" >O<tspan font-size="8.5" dx="0.2" dy="3.40">2</tspan><tspan dx="0.9" dy="-3.40"> 10min</tspan></text>
<text x="483.0" y="123.8" font-size="11.5" text-anchor="start" font-weight="normal" fill="#1a1a1a" >N<tspan font-size="8.5" dx="0.2" dy="3.40">2</tspan><tspan dx="0.9" dy="-3.40"> 10min</tspan></text>
<text x="483.0" y="146.2" font-size="11.5" text-anchor="start" font-weight="normal" fill="#1a1a1a" >NO 10min</text>
<text x="483.0" y="167.2" font-size="11.5" text-anchor="start" font-weight="normal" fill="#1a1a1a" >NO 5min</text>
<text x="483.0" y="188.2" font-size="11.5" text-anchor="start" font-weight="normal" fill="#1a1a1a" >NO 2min <tspan dx="2.6">×3</tspan></text>
<path d="M17.00,432.40 L29.70,432.40 L30.50,425.00 L31.20,400.00 L31.80,380.00 L32.50,366.00 L33.20,372.00 L34.00,382.00 L35.00,387.50 L36.70,389.00 L40.40,390.30 L42.00,392.00 L43.60,394.60 L47.90,398.50 L52.20,400.00 L63.00,400.80 L84.40,401.70 L110.00,402.70 L148.20,403.70 L204.00,405.30" fill="none" stroke="#6c9bd2" stroke-width="1.1" stroke-linejoin="round" stroke-linecap="round" />
<path d="M17.00,432.40 L29.70,432.40 L30.30,431.00 L30.80,400.00 L31.20,360.00 L31.60,320.00 L32.00,300.00 L32.60,295.20 L34.00,288.40 L35.50,283.50 L37.40,280.10 L38.50,282.00 L39.40,285.50 L41.00,300.00 L42.50,310.80 L43.60,329.00 L45.30,332.30 L47.90,339.80 L51.10,348.40 L54.40,357.00 L55.90,363.40 L57.60,365.60 L59.30,372.00 L63.00,376.30 L68.30,380.60 L72.60,385.00 L75.90,386.50 L82.30,386.50 L87.70,387.70 L95.00,388.20 L100.00,388.90 L104.80,390.20 L110.40,389.70 L117.70,391.30 L125.70,391.00 L133.70,392.60 L148.20,393.40 L164.20,394.50 L180.30,395.30 L204.00,396.60" fill="none" stroke="#f03c3c" stroke-width="1.1" stroke-linejoin="round" stroke-linecap="round" />
<line x1="91.4" y1="254.8" x2="111.3" y2="254.8" stroke="#f03c3c" stroke-width="1.2"/>
<line x1="91.4" y1="271.9" x2="111.3" y2="271.9" stroke="#6c9bd2" stroke-width="1.2"/>
<text x="114.6" y="259.1" font-size="11.5" text-anchor="start" font-weight="normal" fill="#1a1a1a" >Mn<tspan font-size="8.5" dx="0.2" dy="3.40">2</tspan><tspan dx="0.9" dy="-3.40">O</tspan><tspan font-size="8.5" dx="0.2" dy="3.40">3</tspan><tspan dx="0.9" dy="-3.40">/SMO </tspan><tspan font-size="8.5" dx="0.3" dy="-4.70">34</tspan><tspan dx="0.9" dy="4.70">O</tspan><tspan font-size="8.5" dx="0.2" dy="3.40">2</tspan></text>
<text x="114.6" y="276.1" font-size="11.5" text-anchor="start" font-weight="normal" fill="#1a1a1a" >SMO <tspan font-size="8.5" dx="0.3" dy="-4.70">34</tspan><tspan dx="0.9" dy="4.70">O</tspan><tspan font-size="8.5" dx="0.2" dy="3.40">2</tspan></text>
<line x1="162.5" y1="313.2" x2="162.5" y2="351.0" stroke="#333" stroke-width="1"/>
<line x1="160.8" y1="313.2" x2="164.2" y2="313.2" stroke="#333" stroke-width="1"/>
<line x1="160.8" y1="351.0" x2="164.2" y2="351.0" stroke="#333" stroke-width="1"/>
<text x="165.0" y="336.1" font-size="11.5" text-anchor="start" font-weight="normal" fill="#1a1a1a" >5×10<tspan font-size="8.5" dx="0.3" dy="-4.70">-12</tspan></text>
<line x1="304.6" y1="409" x2="304.6" y2="432" stroke="#959595" stroke-width="1" stroke-dasharray="3.8,3.1"/>
<line x1="331.6" y1="419" x2="331.6" y2="432" stroke="#959595" stroke-width="1" stroke-dasharray="3.8,3.1"/>
<path d="M250.00,432.40 L271.50,432.40 L271.90,428.60 L273.80,419.50 L274.90,410.60 L276.20,403.00 L277.60,400.30 L280.70,405.80 L283.80,411.30 L286.60,415.40 L290.00,418.50 L294.20,419.90 L298.30,420.20 L310.00,419.80 L340.00,419.60 L370.00,419.20 L437.00,418.40" fill="none" stroke="#b3cbe6" stroke-width="1.0" stroke-linejoin="round" stroke-linecap="round" />
<circle cx="251.40" cy="432.40" r="1.35" fill="#fff" stroke="#b3cbe6" stroke-width="0.85" opacity="0.35"/>
<circle cx="254.60" cy="432.40" r="1.35" fill="#fff" stroke="#b3cbe6" stroke-width="0.85" opacity="0.35"/>
<circle cx="257.80" cy="432.40" r="1.35" fill="#fff" stroke="#b3cbe6" stroke-width="0.85" opacity="0.35"/>
<circle cx="261.00" cy="432.40" r="1.35" fill="#fff" stroke="#b3cbe6" stroke-width="0.85" opacity="0.35"/>
<circle cx="264.20" cy="432.40" r="1.35" fill="#fff" stroke="#b3cbe6" stroke-width="0.85" opacity="0.35"/>
<circle cx="267.40" cy="432.40" r="1.35" fill="#fff" stroke="#b3cbe6" stroke-width="0.85" opacity="0.35"/>
<circle cx="270.60" cy="432.40" r="1.35" fill="#fff" stroke="#b3cbe6" stroke-width="0.85" opacity="0.35"/>
<circle cx="273.80" cy="419.50" r="1.35" fill="#fff" stroke="#b3cbe6" stroke-width="0.85"/>
<circle cx="277.00" cy="401.46" r="1.35" fill="#fff" stroke="#b3cbe6" stroke-width="0.85"/>
<circle cx="280.20" cy="404.91" r="1.35" fill="#fff" stroke="#b3cbe6" stroke-width="0.85"/>
<circle cx="283.40" cy="410.59" r="1.35" fill="#fff" stroke="#b3cbe6" stroke-width="0.85"/>
<circle cx="286.60" cy="415.40" r="1.35" fill="#fff" stroke="#b3cbe6" stroke-width="0.85"/>
<circle cx="289.80" cy="418.32" r="1.35" fill="#fff" stroke="#b3cbe6" stroke-width="0.85"/>
<circle cx="293.00" cy="419.50" r="1.35" fill="#fff" stroke="#b3cbe6" stroke-width="0.85"/>
<circle cx="296.20" cy="420.05" r="1.35" fill="#fff" stroke="#b3cbe6" stroke-width="0.85"/>
<circle cx="299.40" cy="420.16" r="1.35" fill="#fff" stroke="#b3cbe6" stroke-width="0.85"/>
<circle cx="302.60" cy="420.05" r="1.35" fill="#fff" stroke="#b3cbe6" stroke-width="0.85"/>
<circle cx="305.80" cy="419.94" r="1.35" fill="#fff" stroke="#b3cbe6" stroke-width="0.85"/>
<circle cx="309.00" cy="419.83" r="1.35" fill="#fff" stroke="#b3cbe6" stroke-width="0.85"/>
<circle cx="312.20" cy="419.79" r="1.35" fill="#fff" stroke="#b3cbe6" stroke-width="0.85"/>
<circle cx="315.40" cy="419.76" r="1.35" fill="#fff" stroke="#b3cbe6" stroke-width="0.85"/>
<circle cx="318.60" cy="419.74" r="1.35" fill="#fff" stroke="#b3cbe6" stroke-width="0.85"/>
<circle cx="321.80" cy="419.72" r="1.35" fill="#fff" stroke="#b3cbe6" stroke-width="0.85"/>
<circle cx="325.00" cy="419.70" r="1.35" fill="#fff" stroke="#b3cbe6" stroke-width="0.85"/>
<circle cx="328.20" cy="419.68" r="1.35" fill="#fff" stroke="#b3cbe6" stroke-width="0.85"/>
<circle cx="331.40" cy="419.66" r="1.35" fill="#fff" stroke="#b3cbe6" stroke-width="0.85"/>
<circle cx="334.60" cy="419.64" r="1.35" fill="#fff" stroke="#b3cbe6" stroke-width="0.85"/>
<circle cx="337.80" cy="419.61" r="1.35" fill="#fff" stroke="#b3cbe6" stroke-width="0.85"/>
<circle cx="341.00" cy="419.59" r="1.35" fill="#fff" stroke="#b3cbe6" stroke-width="0.85"/>
<circle cx="344.20" cy="419.54" r="1.35" fill="#fff" stroke="#b3cbe6" stroke-width="0.85"/>
<circle cx="347.40" cy="419.50" r="1.35" fill="#fff" stroke="#b3cbe6" stroke-width="0.85"/>
<circle cx="350.60" cy="419.46" r="1.35" fill="#fff" stroke="#b3cbe6" stroke-width="0.85"/>
<circle cx="353.80" cy="419.42" r="1.35" fill="#fff" stroke="#b3cbe6" stroke-width="0.85"/>
<circle cx="357.00" cy="419.37" r="1.35" fill="#fff" stroke="#b3cbe6" stroke-width="0.85"/>
<circle cx="360.20" cy="419.33" r="1.35" fill="#fff" stroke="#b3cbe6" stroke-width="0.85"/>
<circle cx="363.40" cy="419.29" r="1.35" fill="#fff" stroke="#b3cbe6" stroke-width="0.85"/>
<circle cx="366.60" cy="419.25" r="1.35" fill="#fff" stroke="#b3cbe6" stroke-width="0.85"/>
<circle cx="369.80" cy="419.20" r="1.35" fill="#fff" stroke="#b3cbe6" stroke-width="0.85"/>
<circle cx="373.00" cy="419.16" r="1.35" fill="#fff" stroke="#b3cbe6" stroke-width="0.85"/>
<circle cx="376.20" cy="419.13" r="1.35" fill="#fff" stroke="#b3cbe6" stroke-width="0.85"/>
<circle cx="379.40" cy="419.09" r="1.35" fill="#fff" stroke="#b3cbe6" stroke-width="0.85"/>
<circle cx="382.60" cy="419.05" r="1.35" fill="#fff" stroke="#b3cbe6" stroke-width="0.85"/>
<circle cx="385.80" cy="419.01" r="1.35" fill="#fff" stroke="#b3cbe6" stroke-width="0.85"/>
<circle cx="389.00" cy="418.97" r="1.35" fill="#fff" stroke="#b3cbe6" stroke-width="0.85"/>
<circle cx="392.20" cy="418.93" r="1.35" fill="#fff" stroke="#b3cbe6" stroke-width="0.85"/>
<circle cx="395.40" cy="418.90" r="1.35" fill="#fff" stroke="#b3cbe6" stroke-width="0.85"/>
<circle cx="398.60" cy="418.86" r="1.35" fill="#fff" stroke="#b3cbe6" stroke-width="0.85"/>
<circle cx="401.80" cy="418.82" r="1.35" fill="#fff" stroke="#b3cbe6" stroke-width="0.85"/>
<circle cx="405.00" cy="418.78" r="1.35" fill="#fff" stroke="#b3cbe6" stroke-width="0.85"/>
<circle cx="408.20" cy="418.74" r="1.35" fill="#fff" stroke="#b3cbe6" stroke-width="0.85"/>
<circle cx="411.40" cy="418.71" r="1.35" fill="#fff" stroke="#b3cbe6" stroke-width="0.85"/>
<circle cx="414.60" cy="418.67" r="1.35" fill="#fff" stroke="#b3cbe6" stroke-width="0.85"/>
<circle cx="417.80" cy="418.63" r="1.35" fill="#fff" stroke="#b3cbe6" stroke-width="0.85"/>
<circle cx="421.00" cy="418.59" r="1.35" fill="#fff" stroke="#b3cbe6" stroke-width="0.85"/>
<circle cx="424.20" cy="418.55" r="1.35" fill="#fff" stroke="#b3cbe6" stroke-width="0.85"/>
<circle cx="427.40" cy="418.51" r="1.35" fill="#fff" stroke="#b3cbe6" stroke-width="0.85"/>
<circle cx="430.60" cy="418.48" r="1.35" fill="#fff" stroke="#b3cbe6" stroke-width="0.85"/>
<circle cx="433.80" cy="418.44" r="1.35" fill="#fff" stroke="#b3cbe6" stroke-width="0.85"/>
<circle cx="437.00" cy="418.40" r="1.35" fill="#fff" stroke="#b3cbe6" stroke-width="0.85"/>
<path d="M250.00,432.40 L266.00,432.40 L267.50,431.80 L268.80,430.10 L271.30,416.70 L273.20,392.00 L274.50,383.00 L275.80,379.40 L277.60,384.50 L279.40,390.70 L280.70,395.50 L282.80,400.30 L284.50,404.20 L288.00,407.10 L292.00,408.40 L298.00,408.60 L310.00,408.10 L330.00,407.60 L437.00,407.40" fill="none" stroke="#f4a3a3" stroke-width="1.0" stroke-linejoin="round" stroke-linecap="round" />
<circle cx="251.40" cy="432.40" r="1.35" fill="#fff" stroke="#f4a3a3" stroke-width="0.85" opacity="0.35"/>
<circle cx="254.60" cy="432.40" r="1.35" fill="#fff" stroke="#f4a3a3" stroke-width="0.85" opacity="0.35"/>
<circle cx="257.80" cy="432.40" r="1.35" fill="#fff" stroke="#f4a3a3" stroke-width="0.85" opacity="0.35"/>
<circle cx="261.00" cy="432.40" r="1.35" fill="#fff" stroke="#f4a3a3" stroke-width="0.85" opacity="0.35"/>
<circle cx="264.20" cy="432.40" r="1.35" fill="#fff" stroke="#f4a3a3" stroke-width="0.85" opacity="0.35"/>
<circle cx="267.40" cy="431.84" r="1.35" fill="#fff" stroke="#f4a3a3" stroke-width="0.85" opacity="0.35"/>
<circle cx="270.60" cy="420.45" r="1.35" fill="#fff" stroke="#f4a3a3" stroke-width="0.85"/>
<circle cx="273.80" cy="387.85" r="1.35" fill="#fff" stroke="#f4a3a3" stroke-width="0.85"/>
<circle cx="277.00" cy="382.80" r="1.35" fill="#fff" stroke="#f4a3a3" stroke-width="0.85"/>
<circle cx="280.20" cy="393.65" r="1.35" fill="#fff" stroke="#f4a3a3" stroke-width="0.85"/>
<circle cx="283.40" cy="401.68" r="1.35" fill="#fff" stroke="#f4a3a3" stroke-width="0.85"/>
<circle cx="286.60" cy="405.94" r="1.35" fill="#fff" stroke="#f4a3a3" stroke-width="0.85"/>
<circle cx="289.80" cy="407.68" r="1.35" fill="#fff" stroke="#f4a3a3" stroke-width="0.85"/>
<circle cx="293.00" cy="408.43" r="1.35" fill="#fff" stroke="#f4a3a3" stroke-width="0.85"/>
<circle cx="296.20" cy="408.54" r="1.35" fill="#fff" stroke="#f4a3a3" stroke-width="0.85"/>
<circle cx="299.40" cy="408.54" r="1.35" fill="#fff" stroke="#f4a3a3" stroke-width="0.85"/>
<circle cx="302.60" cy="408.41" r="1.35" fill="#fff" stroke="#f4a3a3" stroke-width="0.85"/>
<circle cx="305.80" cy="408.28" r="1.35" fill="#fff" stroke="#f4a3a3" stroke-width="0.85"/>
<circle cx="309.00" cy="408.14" r="1.35" fill="#fff" stroke="#f4a3a3" stroke-width="0.85"/>
<circle cx="312.20" cy="408.05" r="1.35" fill="#fff" stroke="#f4a3a3" stroke-width="0.85"/>
<circle cx="315.40" cy="407.97" r="1.35" fill="#fff" stroke="#f4a3a3" stroke-width="0.85"/>
<circle cx="318.60" cy="407.89" r="1.35" fill="#fff" stroke="#f4a3a3" stroke-width="0.85"/>
<circle cx="321.80" cy="407.81" r="1.35" fill="#fff" stroke="#f4a3a3" stroke-width="0.85"/>
<circle cx="325.00" cy="407.73" r="1.35" fill="#fff" stroke="#f4a3a3" stroke-width="0.85"/>
<circle cx="328.20" cy="407.65" r="1.35" fill="#fff" stroke="#f4a3a3" stroke-width="0.85"/>
<circle cx="331.40" cy="407.60" r="1.35" fill="#fff" stroke="#f4a3a3" stroke-width="0.85"/>
<circle cx="334.60" cy="407.59" r="1.35" fill="#fff" stroke="#f4a3a3" stroke-width="0.85"/>
<circle cx="337.80" cy="407.59" r="1.35" fill="#fff" stroke="#f4a3a3" stroke-width="0.85"/>
<circle cx="341.00" cy="407.58" r="1.35" fill="#fff" stroke="#f4a3a3" stroke-width="0.85"/>
<circle cx="344.20" cy="407.57" r="1.35" fill="#fff" stroke="#f4a3a3" stroke-width="0.85"/>
<circle cx="347.40" cy="407.57" r="1.35" fill="#fff" stroke="#f4a3a3" stroke-width="0.85"/>
<circle cx="350.60" cy="407.56" r="1.35" fill="#fff" stroke="#f4a3a3" stroke-width="0.85"/>
<circle cx="353.80" cy="407.56" r="1.35" fill="#fff" stroke="#f4a3a3" stroke-width="0.85"/>
<circle cx="357.00" cy="407.55" r="1.35" fill="#fff" stroke="#f4a3a3" stroke-width="0.85"/>
<circle cx="360.20" cy="407.54" r="1.35" fill="#fff" stroke="#f4a3a3" stroke-width="0.85"/>
<circle cx="363.40" cy="407.54" r="1.35" fill="#fff" stroke="#f4a3a3" stroke-width="0.85"/>
<circle cx="366.60" cy="407.53" r="1.35" fill="#fff" stroke="#f4a3a3" stroke-width="0.85"/>
<circle cx="369.80" cy="407.53" r="1.35" fill="#fff" stroke="#f4a3a3" stroke-width="0.85"/>
<circle cx="373.00" cy="407.52" r="1.35" fill="#fff" stroke="#f4a3a3" stroke-width="0.85"/>
<circle cx="376.20" cy="407.51" r="1.35" fill="#fff" stroke="#f4a3a3" stroke-width="0.85"/>
<circle cx="379.40" cy="407.51" r="1.35" fill="#fff" stroke="#f4a3a3" stroke-width="0.85"/>
<circle cx="382.60" cy="407.50" r="1.35" fill="#fff" stroke="#f4a3a3" stroke-width="0.85"/>
<circle cx="385.80" cy="407.50" r="1.35" fill="#fff" stroke="#f4a3a3" stroke-width="0.85"/>
<circle cx="389.00" cy="407.49" r="1.35" fill="#fff" stroke="#f4a3a3" stroke-width="0.85"/>
<circle cx="392.20" cy="407.48" r="1.35" fill="#fff" stroke="#f4a3a3" stroke-width="0.85"/>
<circle cx="395.40" cy="407.48" r="1.35" fill="#fff" stroke="#f4a3a3" stroke-width="0.85"/>
<circle cx="398.60" cy="407.47" r="1.35" fill="#fff" stroke="#f4a3a3" stroke-width="0.85"/>
<circle cx="401.80" cy="407.47" r="1.35" fill="#fff" stroke="#f4a3a3" stroke-width="0.85"/>
<circle cx="405.00" cy="407.46" r="1.35" fill="#fff" stroke="#f4a3a3" stroke-width="0.85"/>
<circle cx="408.20" cy="407.45" r="1.35" fill="#fff" stroke="#f4a3a3" stroke-width="0.85"/>
<circle cx="411.40" cy="407.45" r="1.35" fill="#fff" stroke="#f4a3a3" stroke-width="0.85"/>
<circle cx="414.60" cy="407.44" r="1.35" fill="#fff" stroke="#f4a3a3" stroke-width="0.85"/>
<circle cx="417.80" cy="407.44" r="1.35" fill="#fff" stroke="#f4a3a3" stroke-width="0.85"/>
<circle cx="421.00" cy="407.43" r="1.35" fill="#fff" stroke="#f4a3a3" stroke-width="0.85"/>
<circle cx="424.20" cy="407.42" r="1.35" fill="#fff" stroke="#f4a3a3" stroke-width="0.85"/>
<circle cx="427.40" cy="407.42" r="1.35" fill="#fff" stroke="#f4a3a3" stroke-width="0.85"/>
<circle cx="430.60" cy="407.41" r="1.35" fill="#fff" stroke="#f4a3a3" stroke-width="0.85"/>
<circle cx="433.80" cy="407.41" r="1.35" fill="#fff" stroke="#f4a3a3" stroke-width="0.85"/>
<circle cx="437.00" cy="407.40" r="1.35" fill="#fff" stroke="#f4a3a3" stroke-width="0.85"/>
<path d="M250.00,432.40 L269.50,432.40 L270.10,430.40 L270.60,410.30 L271.90,377.40 L273.20,362.00 L274.60,356.90 L277.40,368.30 L279.00,374.90 L280.70,383.50 L282.50,390.70 L284.20,395.50 L286.90,403.70 L290.70,409.90 L294.20,412.60 L298.30,415.10 L305.00,417.20 L320.00,417.80 L340.00,419.00 L370.00,419.60 L437.00,420.80" fill="none" stroke="#5a80b8" stroke-width="1.1" stroke-linejoin="round" stroke-linecap="round" />
<circle cx="251.40" cy="432.40" r="1.35" fill="#fff" stroke="#5a80b8" stroke-width="0.85" opacity="0.35"/>
<circle cx="254.60" cy="432.40" r="1.35" fill="#fff" stroke="#5a80b8" stroke-width="0.85" opacity="0.35"/>
<circle cx="257.80" cy="432.40" r="1.35" fill="#fff" stroke="#5a80b8" stroke-width="0.85" opacity="0.35"/>
<circle cx="261.00" cy="432.40" r="1.35" fill="#fff" stroke="#5a80b8" stroke-width="0.85" opacity="0.35"/>
<circle cx="264.20" cy="432.40" r="1.35" fill="#fff" stroke="#5a80b8" stroke-width="0.85" opacity="0.35"/>
<circle cx="267.40" cy="432.40" r="1.35" fill="#fff" stroke="#5a80b8" stroke-width="0.85" opacity="0.35"/>
<circle cx="270.60" cy="410.30" r="1.35" fill="#fff" stroke="#5a80b8" stroke-width="0.85"/>
<circle cx="273.80" cy="359.81" r="1.35" fill="#fff" stroke="#5a80b8" stroke-width="0.85"/>
<circle cx="277.00" cy="366.67" r="1.35" fill="#fff" stroke="#5a80b8" stroke-width="0.85"/>
<circle cx="280.20" cy="380.97" r="1.35" fill="#fff" stroke="#5a80b8" stroke-width="0.85"/>
<circle cx="283.40" cy="393.24" r="1.35" fill="#fff" stroke="#5a80b8" stroke-width="0.85"/>
<circle cx="286.60" cy="402.79" r="1.35" fill="#fff" stroke="#5a80b8" stroke-width="0.85"/>
<circle cx="289.80" cy="408.43" r="1.35" fill="#fff" stroke="#5a80b8" stroke-width="0.85"/>
<circle cx="293.00" cy="411.67" r="1.35" fill="#fff" stroke="#5a80b8" stroke-width="0.85"/>
<circle cx="296.20" cy="413.82" r="1.35" fill="#fff" stroke="#5a80b8" stroke-width="0.85"/>
<circle cx="299.40" cy="415.44" r="1.35" fill="#fff" stroke="#5a80b8" stroke-width="0.85"/>
<circle cx="302.60" cy="416.45" r="1.35" fill="#fff" stroke="#5a80b8" stroke-width="0.85"/>
<circle cx="305.80" cy="417.23" r="1.35" fill="#fff" stroke="#5a80b8" stroke-width="0.85"/>
<circle cx="309.00" cy="417.36" r="1.35" fill="#fff" stroke="#5a80b8" stroke-width="0.85"/>
<circle cx="312.20" cy="417.49" r="1.35" fill="#fff" stroke="#5a80b8" stroke-width="0.85"/>
<circle cx="315.40" cy="417.62" r="1.35" fill="#fff" stroke="#5a80b8" stroke-width="0.85"/>
<circle cx="318.60" cy="417.74" r="1.35" fill="#fff" stroke="#5a80b8" stroke-width="0.85"/>
<circle cx="321.80" cy="417.91" r="1.35" fill="#fff" stroke="#5a80b8" stroke-width="0.85"/>
<circle cx="325.00" cy="418.10" r="1.35" fill="#fff" stroke="#5a80b8" stroke-width="0.85"/>
<circle cx="328.20" cy="418.29" r="1.35" fill="#fff" stroke="#5a80b8" stroke-width="0.85"/>
<circle cx="331.40" cy="418.48" r="1.35" fill="#fff" stroke="#5a80b8" stroke-width="0.85"/>
<circle cx="334.60" cy="418.68" r="1.35" fill="#fff" stroke="#5a80b8" stroke-width="0.85"/>
<circle cx="337.80" cy="418.87" r="1.35" fill="#fff" stroke="#5a80b8" stroke-width="0.85"/>
<circle cx="341.00" cy="419.02" r="1.35" fill="#fff" stroke="#5a80b8" stroke-width="0.85"/>
<circle cx="344.20" cy="419.08" r="1.35" fill="#fff" stroke="#5a80b8" stroke-width="0.85"/>
<circle cx="347.40" cy="419.15" r="1.35" fill="#fff" stroke="#5a80b8" stroke-width="0.85"/>
<circle cx="350.60" cy="419.21" r="1.35" fill="#fff" stroke="#5a80b8" stroke-width="0.85"/>
<circle cx="353.80" cy="419.28" r="1.35" fill="#fff" stroke="#5a80b8" stroke-width="0.85"/>
<circle cx="357.00" cy="419.34" r="1.35" fill="#fff" stroke="#5a80b8" stroke-width="0.85"/>
<circle cx="360.20" cy="419.40" r="1.35" fill="#fff" stroke="#5a80b8" stroke-width="0.85"/>
<circle cx="363.40" cy="419.47" r="1.35" fill="#fff" stroke="#5a80b8" stroke-width="0.85"/>
<circle cx="366.60" cy="419.53" r="1.35" fill="#fff" stroke="#5a80b8" stroke-width="0.85"/>
<circle cx="369.80" cy="419.60" r="1.35" fill="#fff" stroke="#5a80b8" stroke-width="0.85"/>
<circle cx="373.00" cy="419.65" r="1.35" fill="#fff" stroke="#5a80b8" stroke-width="0.85"/>
<circle cx="376.20" cy="419.71" r="1.35" fill="#fff" stroke="#5a80b8" stroke-width="0.85"/>
<circle cx="379.40" cy="419.77" r="1.35" fill="#fff" stroke="#5a80b8" stroke-width="0.85"/>
<circle cx="382.60" cy="419.83" r="1.35" fill="#fff" stroke="#5a80b8" stroke-width="0.85"/>
<circle cx="385.80" cy="419.88" r="1.35" fill="#fff" stroke="#5a80b8" stroke-width="0.85"/>
<circle cx="389.00" cy="419.94" r="1.35" fill="#fff" stroke="#5a80b8" stroke-width="0.85"/>
<circle cx="392.20" cy="420.00" r="1.35" fill="#fff" stroke="#5a80b8" stroke-width="0.85"/>
<circle cx="395.40" cy="420.05" r="1.35" fill="#fff" stroke="#5a80b8" stroke-width="0.85"/>
<circle cx="398.60" cy="420.11" r="1.35" fill="#fff" stroke="#5a80b8" stroke-width="0.85"/>
<circle cx="401.80" cy="420.17" r="1.35" fill="#fff" stroke="#5a80b8" stroke-width="0.85"/>
<circle cx="405.00" cy="420.23" r="1.35" fill="#fff" stroke="#5a80b8" stroke-width="0.85"/>
<circle cx="408.20" cy="420.28" r="1.35" fill="#fff" stroke="#5a80b8" stroke-width="0.85"/>
<circle cx="411.40" cy="420.34" r="1.35" fill="#fff" stroke="#5a80b8" stroke-width="0.85"/>
<circle cx="414.60" cy="420.40" r="1.35" fill="#fff" stroke="#5a80b8" stroke-width="0.85"/>
<circle cx="417.80" cy="420.46" r="1.35" fill="#fff" stroke="#5a80b8" stroke-width="0.85"/>
<circle cx="421.00" cy="420.51" r="1.35" fill="#fff" stroke="#5a80b8" stroke-width="0.85"/>
<circle cx="424.20" cy="420.57" r="1.35" fill="#fff" stroke="#5a80b8" stroke-width="0.85"/>
<circle cx="427.40" cy="420.63" r="1.35" fill="#fff" stroke="#5a80b8" stroke-width="0.85"/>
<circle cx="430.60" cy="420.69" r="1.35" fill="#fff" stroke="#5a80b8" stroke-width="0.85"/>
<circle cx="433.80" cy="420.74" r="1.35" fill="#fff" stroke="#5a80b8" stroke-width="0.85"/>
<circle cx="437.00" cy="420.80" r="1.35" fill="#fff" stroke="#5a80b8" stroke-width="0.85"/>
<path d="M250.00,432.40 L261.00,432.40 L262.50,431.50 L264.60,424.50 L266.50,418.00 L268.20,411.20 L269.50,400.00 L270.10,386.60 L271.00,350.00 L272.00,315.00 L273.40,280.00 L274.40,259.80 L275.60,272.00 L277.90,304.40 L280.40,353.30 L282.10,369.00 L283.50,378.30 L284.50,382.80 L285.90,388.60 L287.60,395.50 L290.00,400.00 L292.10,403.40 L296.90,407.10 L300.00,408.30 L305.00,409.50 L310.00,410.40 L320.00,411.60 L330.00,412.50 L350.00,413.50 L370.00,413.90 L400.00,414.60 L437.00,415.40" fill="none" stroke="#ee3434" stroke-width="1.1" stroke-linejoin="round" stroke-linecap="round" />
<circle cx="251.40" cy="432.40" r="1.35" fill="#fff" stroke="#ee3434" stroke-width="0.85" opacity="0.35"/>
<circle cx="254.60" cy="432.40" r="1.35" fill="#fff" stroke="#ee3434" stroke-width="0.85" opacity="0.35"/>
<circle cx="257.80" cy="432.40" r="1.35" fill="#fff" stroke="#ee3434" stroke-width="0.85" opacity="0.35"/>
<circle cx="261.00" cy="432.40" r="1.35" fill="#fff" stroke="#ee3434" stroke-width="0.85" opacity="0.35"/>
<circle cx="264.20" cy="425.83" r="1.35" fill="#fff" stroke="#ee3434" stroke-width="0.85"/>
<circle cx="267.40" cy="414.40" r="1.35" fill="#fff" stroke="#ee3434" stroke-width="0.85"/>
<circle cx="270.60" cy="366.27" r="1.35" fill="#fff" stroke="#ee3434" stroke-width="0.85"/>
<circle cx="273.80" cy="271.92" r="1.35" fill="#fff" stroke="#ee3434" stroke-width="0.85"/>
<circle cx="277.00" cy="291.72" r="1.35" fill="#fff" stroke="#ee3434" stroke-width="0.85"/>
<circle cx="280.20" cy="349.39" r="1.35" fill="#fff" stroke="#ee3434" stroke-width="0.85"/>
<circle cx="283.40" cy="377.64" r="1.35" fill="#fff" stroke="#ee3434" stroke-width="0.85"/>
<circle cx="286.60" cy="391.44" r="1.35" fill="#fff" stroke="#ee3434" stroke-width="0.85"/>
<circle cx="289.80" cy="399.62" r="1.35" fill="#fff" stroke="#ee3434" stroke-width="0.85"/>
<circle cx="293.00" cy="404.09" r="1.35" fill="#fff" stroke="#ee3434" stroke-width="0.85"/>
<circle cx="296.20" cy="406.56" r="1.35" fill="#fff" stroke="#ee3434" stroke-width="0.85"/>
<circle cx="299.40" cy="408.07" r="1.35" fill="#fff" stroke="#ee3434" stroke-width="0.85"/>
<circle cx="302.60" cy="408.92" r="1.35" fill="#fff" stroke="#ee3434" stroke-width="0.85"/>
<circle cx="305.80" cy="409.64" r="1.35" fill="#fff" stroke="#ee3434" stroke-width="0.85"/>
<circle cx="309.00" cy="410.22" r="1.35" fill="#fff" stroke="#ee3434" stroke-width="0.85"/>
<circle cx="312.20" cy="410.66" r="1.35" fill="#fff" stroke="#ee3434" stroke-width="0.85"/>
<circle cx="315.40" cy="411.05" r="1.35" fill="#fff" stroke="#ee3434" stroke-width="0.85"/>
<circle cx="318.60" cy="411.43" r="1.35" fill="#fff" stroke="#ee3434" stroke-width="0.85"/>
<circle cx="321.80" cy="411.76" r="1.35" fill="#fff" stroke="#ee3434" stroke-width="0.85"/>
<circle cx="325.00" cy="412.05" r="1.35" fill="#fff" stroke="#ee3434" stroke-width="0.85"/>
<circle cx="328.20" cy="412.34" r="1.35" fill="#fff" stroke="#ee3434" stroke-width="0.85"/>
<circle cx="331.40" cy="412.57" r="1.35" fill="#fff" stroke="#ee3434" stroke-width="0.85"/>
<circle cx="334.60" cy="412.73" r="1.35" fill="#fff" stroke="#ee3434" stroke-width="0.85"/>
<circle cx="337.80" cy="412.89" r="1.35" fill="#fff" stroke="#ee3434" stroke-width="0.85"/>
<circle cx="341.00" cy="413.05" r="1.35" fill="#fff" stroke="#ee3434" stroke-width="0.85"/>
<circle cx="344.20" cy="413.21" r="1.35" fill="#fff" stroke="#ee3434" stroke-width="0.85"/>
<circle cx="347.40" cy="413.37" r="1.35" fill="#fff" stroke="#ee3434" stroke-width="0.85"/>
<circle cx="350.60" cy="413.51" r="1.35" fill="#fff" stroke="#ee3434" stroke-width="0.85"/>
<circle cx="353.80" cy="413.58" r="1.35" fill="#fff" stroke="#ee3434" stroke-width="0.85"/>
<circle cx="357.00" cy="413.64" r="1.35" fill="#fff" stroke="#ee3434" stroke-width="0.85"/>
<circle cx="360.20" cy="413.70" r="1.35" fill="#fff" stroke="#ee3434" stroke-width="0.85"/>
<circle cx="363.40" cy="413.77" r="1.35" fill="#fff" stroke="#ee3434" stroke-width="0.85"/>
<circle cx="366.60" cy="413.83" r="1.35" fill="#fff" stroke="#ee3434" stroke-width="0.85"/>
<circle cx="369.80" cy="413.90" r="1.35" fill="#fff" stroke="#ee3434" stroke-width="0.85"/>
<circle cx="373.00" cy="413.97" r="1.35" fill="#fff" stroke="#ee3434" stroke-width="0.85"/>
<circle cx="376.20" cy="414.04" r="1.35" fill="#fff" stroke="#ee3434" stroke-width="0.85"/>
<circle cx="379.40" cy="414.12" r="1.35" fill="#fff" stroke="#ee3434" stroke-width="0.85"/>
<circle cx="382.60" cy="414.19" r="1.35" fill="#fff" stroke="#ee3434" stroke-width="0.85"/>
<circle cx="385.80" cy="414.27" r="1.35" fill="#fff" stroke="#ee3434" stroke-width="0.85"/>
<circle cx="389.00" cy="414.34" r="1.35" fill="#fff" stroke="#ee3434" stroke-width="0.85"/>
<circle cx="392.20" cy="414.42" r="1.35" fill="#fff" stroke="#ee3434" stroke-width="0.85"/>
<circle cx="395.40" cy="414.49" r="1.35" fill="#fff" stroke="#ee3434" stroke-width="0.85"/>
<circle cx="398.60" cy="414.57" r="1.35" fill="#fff" stroke="#ee3434" stroke-width="0.85"/>
<circle cx="401.80" cy="414.64" r="1.35" fill="#fff" stroke="#ee3434" stroke-width="0.85"/>
<circle cx="405.00" cy="414.71" r="1.35" fill="#fff" stroke="#ee3434" stroke-width="0.85"/>
<circle cx="408.20" cy="414.78" r="1.35" fill="#fff" stroke="#ee3434" stroke-width="0.85"/>
<circle cx="411.40" cy="414.85" r="1.35" fill="#fff" stroke="#ee3434" stroke-width="0.85"/>
<circle cx="414.60" cy="414.92" r="1.35" fill="#fff" stroke="#ee3434" stroke-width="0.85"/>
<circle cx="417.80" cy="414.98" r="1.35" fill="#fff" stroke="#ee3434" stroke-width="0.85"/>
<circle cx="421.00" cy="415.05" r="1.35" fill="#fff" stroke="#ee3434" stroke-width="0.85"/>
<circle cx="424.20" cy="415.12" r="1.35" fill="#fff" stroke="#ee3434" stroke-width="0.85"/>
<circle cx="427.40" cy="415.19" r="1.35" fill="#fff" stroke="#ee3434" stroke-width="0.85"/>
<circle cx="430.60" cy="415.26" r="1.35" fill="#fff" stroke="#ee3434" stroke-width="0.85"/>
<circle cx="433.80" cy="415.33" r="1.35" fill="#fff" stroke="#ee3434" stroke-width="0.85"/>
<circle cx="437.00" cy="415.40" r="1.35" fill="#fff" stroke="#ee3434" stroke-width="0.85"/>
<text x="292.3" y="401.9" font-size="11.5" text-anchor="start" font-weight="normal" fill="#1a1a1a" >570 s</text>
<text x="332.5" y="431.4" font-size="11.5" text-anchor="start" font-weight="normal" fill="#1a1a1a" >870 s</text>
<line x1="315.8" y1="255.0" x2="336" y2="255.0" stroke="#ee3434" stroke-width="1.4"/>
<circle cx="325.8" cy="255.0" r="1.4" fill="#fff" stroke="#ee3434" stroke-width="0.8"/>
<line x1="315.8" y1="272.1" x2="336" y2="272.1" stroke="#f4a3a3" stroke-width="1.4"/>
<circle cx="325.8" cy="272.1" r="1.4" fill="#fff" stroke="#f4a3a3" stroke-width="0.8"/>
<line x1="315.8" y1="288.9" x2="336" y2="288.9" stroke="#5a80b8" stroke-width="1.4"/>
<circle cx="325.8" cy="288.9" r="1.4" fill="#fff" stroke="#5a80b8" stroke-width="0.8"/>
<line x1="315.8" y1="305.6" x2="336" y2="305.6" stroke="#b3cbe6" stroke-width="1.4"/>
<circle cx="325.8" cy="305.6" r="1.4" fill="#fff" stroke="#b3cbe6" stroke-width="0.8"/>
<text x="338.5" y="259.0" font-size="11.5" text-anchor="start" font-weight="normal" fill="#1a1a1a" >Mn<tspan font-size="8.5" dx="0.2" dy="3.40">2</tspan><tspan dx="0.9" dy="-3.40">O</tspan><tspan font-size="8.5" dx="0.2" dy="3.40">3</tspan><tspan dx="0.9" dy="-3.40">/SMO </tspan><tspan font-size="8.5" dx="0.3" dy="-4.70">44</tspan><tspan dx="0.9" dy="4.70">CO</tspan><tspan font-size="8.5" dx="0.2" dy="3.40">2</tspan></text>
<text x="338.5" y="275.8" font-size="11.5" text-anchor="start" font-weight="normal" fill="#1a1a1a" >Mn<tspan font-size="8.5" dx="0.2" dy="3.40">2</tspan><tspan dx="0.9" dy="-3.40">O</tspan><tspan font-size="8.5" dx="0.2" dy="3.40">3</tspan><tspan dx="0.9" dy="-3.40">/SMO </tspan><tspan font-size="8.5" dx="0.3" dy="-4.70">46</tspan><tspan dx="0.9" dy="4.70">CO</tspan><tspan font-size="8.5" dx="0.2" dy="3.40">2</tspan></text>
<text x="338.5" y="293.1" font-size="11.5" text-anchor="start" font-weight="normal" fill="#1a1a1a" >SMO <tspan font-size="8.5" dx="0.3" dy="-4.70">44</tspan><tspan dx="0.9" dy="4.70">CO</tspan><tspan font-size="8.5" dx="0.2" dy="3.40">2</tspan></text>
<text x="338.5" y="309.5" font-size="11.5" text-anchor="start" font-weight="normal" fill="#1a1a1a" >SMO <tspan font-size="8.5" dx="0.3" dy="-4.70">46</tspan><tspan dx="0.9" dy="4.70">CO</tspan><tspan font-size="8.5" dx="0.2" dy="3.40">2</tspan></text>
<line x1="395.7" y1="332.5" x2="395.7" y2="351.0" stroke="#333" stroke-width="1"/>
<line x1="394.0" y1="332.5" x2="397.4" y2="332.5" stroke="#333" stroke-width="1"/>
<line x1="394.0" y1="351.0" x2="397.4" y2="351.0" stroke="#333" stroke-width="1"/>
<text x="398.0" y="345.6" font-size="11.5" text-anchor="start" font-weight="normal" fill="#1a1a1a" >5×10<tspan font-size="8.5" dx="0.3" dy="-4.70">-12</tspan></text>
<path d="M483.00,432.40 L506.00,432.40 L507.50,428.00 L508.40,423.50 L512.00,419.90 L517.90,419.90 L525.00,421.10 L534.40,421.10 L541.50,423.50 L551.00,421.10 L555.00,423.50 L562.70,424.50 L572.40,422.60 L580.20,425.10 L589.80,423.20 L599.50,426.10 L607.30,424.50 L615.00,427.00 L622.70,425.50 L632.40,427.80 L642.10,426.40 L651.80,428.00 L661.40,427.00 L670.00,429.30" fill="none" stroke="#b3cbe6" stroke-width="1.0" stroke-linejoin="round" stroke-linecap="round" />
<rect x="483.90" y="431.20" width="2.4" height="2.4" fill="#fff" stroke="#b3cbe6" stroke-width="0.85" opacity="0.35"/>
<rect x="487.10" y="431.20" width="2.4" height="2.4" fill="#fff" stroke="#b3cbe6" stroke-width="0.85" opacity="0.35"/>
<rect x="490.30" y="431.20" width="2.4" height="2.4" fill="#fff" stroke="#b3cbe6" stroke-width="0.85" opacity="0.35"/>
<rect x="493.50" y="431.20" width="2.4" height="2.4" fill="#fff" stroke="#b3cbe6" stroke-width="0.85" opacity="0.35"/>
<rect x="496.70" y="431.20" width="2.4" height="2.4" fill="#fff" stroke="#b3cbe6" stroke-width="0.85" opacity="0.35"/>
<rect x="499.90" y="431.20" width="2.4" height="2.4" fill="#fff" stroke="#b3cbe6" stroke-width="0.85" opacity="0.35"/>
<rect x="503.10" y="431.20" width="2.4" height="2.4" fill="#fff" stroke="#b3cbe6" stroke-width="0.85" opacity="0.35"/>
<rect x="506.30" y="426.80" width="2.4" height="2.4" fill="#fff" stroke="#b3cbe6" stroke-width="0.85"/>
<rect x="509.50" y="420.00" width="2.4" height="2.4" fill="#fff" stroke="#b3cbe6" stroke-width="0.85"/>
<rect x="512.70" y="418.70" width="2.4" height="2.4" fill="#fff" stroke="#b3cbe6" stroke-width="0.85"/>
<rect x="515.90" y="418.70" width="2.4" height="2.4" fill="#fff" stroke="#b3cbe6" stroke-width="0.85"/>
<rect x="519.10" y="419.11" width="2.4" height="2.4" fill="#fff" stroke="#b3cbe6" stroke-width="0.85"/>
<rect x="522.30" y="419.65" width="2.4" height="2.4" fill="#fff" stroke="#b3cbe6" stroke-width="0.85"/>
<rect x="525.50" y="419.90" width="2.4" height="2.4" fill="#fff" stroke="#b3cbe6" stroke-width="0.85"/>
<rect x="528.70" y="419.90" width="2.4" height="2.4" fill="#fff" stroke="#b3cbe6" stroke-width="0.85"/>
<rect x="531.90" y="419.90" width="2.4" height="2.4" fill="#fff" stroke="#b3cbe6" stroke-width="0.85"/>
<rect x="535.10" y="420.54" width="2.4" height="2.4" fill="#fff" stroke="#b3cbe6" stroke-width="0.85"/>
<rect x="538.30" y="421.62" width="2.4" height="2.4" fill="#fff" stroke="#b3cbe6" stroke-width="0.85"/>
<rect x="541.50" y="422.00" width="2.4" height="2.4" fill="#fff" stroke="#b3cbe6" stroke-width="0.85"/>
<rect x="544.70" y="421.19" width="2.4" height="2.4" fill="#fff" stroke="#b3cbe6" stroke-width="0.85"/>
<rect x="547.90" y="420.38" width="2.4" height="2.4" fill="#fff" stroke="#b3cbe6" stroke-width="0.85"/>
<rect x="551.10" y="420.68" width="2.4" height="2.4" fill="#fff" stroke="#b3cbe6" stroke-width="0.85"/>
<rect x="554.30" y="422.36" width="2.4" height="2.4" fill="#fff" stroke="#b3cbe6" stroke-width="0.85"/>
<rect x="557.50" y="422.78" width="2.4" height="2.4" fill="#fff" stroke="#b3cbe6" stroke-width="0.85"/>
<rect x="560.70" y="423.20" width="2.4" height="2.4" fill="#fff" stroke="#b3cbe6" stroke-width="0.85"/>
<rect x="563.90" y="422.83" width="2.4" height="2.4" fill="#fff" stroke="#b3cbe6" stroke-width="0.85"/>
<rect x="567.10" y="422.20" width="2.4" height="2.4" fill="#fff" stroke="#b3cbe6" stroke-width="0.85"/>
<rect x="570.30" y="421.58" width="2.4" height="2.4" fill="#fff" stroke="#b3cbe6" stroke-width="0.85"/>
<rect x="573.50" y="422.14" width="2.4" height="2.4" fill="#fff" stroke="#b3cbe6" stroke-width="0.85"/>
<rect x="576.70" y="423.16" width="2.4" height="2.4" fill="#fff" stroke="#b3cbe6" stroke-width="0.85"/>
<rect x="579.90" y="423.72" width="2.4" height="2.4" fill="#fff" stroke="#b3cbe6" stroke-width="0.85"/>
<rect x="583.10" y="423.09" width="2.4" height="2.4" fill="#fff" stroke="#b3cbe6" stroke-width="0.85"/>
<rect x="586.30" y="422.46" width="2.4" height="2.4" fill="#fff" stroke="#b3cbe6" stroke-width="0.85"/>
<rect x="589.50" y="422.27" width="2.4" height="2.4" fill="#fff" stroke="#b3cbe6" stroke-width="0.85"/>
<rect x="592.70" y="423.23" width="2.4" height="2.4" fill="#fff" stroke="#b3cbe6" stroke-width="0.85"/>
<rect x="595.90" y="424.18" width="2.4" height="2.4" fill="#fff" stroke="#b3cbe6" stroke-width="0.85"/>
<rect x="599.10" y="424.74" width="2.4" height="2.4" fill="#fff" stroke="#b3cbe6" stroke-width="0.85"/>
<rect x="602.30" y="424.08" width="2.4" height="2.4" fill="#fff" stroke="#b3cbe6" stroke-width="0.85"/>
<rect x="605.50" y="423.42" width="2.4" height="2.4" fill="#fff" stroke="#b3cbe6" stroke-width="0.85"/>
<rect x="608.70" y="424.14" width="2.4" height="2.4" fill="#fff" stroke="#b3cbe6" stroke-width="0.85"/>
<rect x="611.90" y="425.18" width="2.4" height="2.4" fill="#fff" stroke="#b3cbe6" stroke-width="0.85"/>
<rect x="615.10" y="425.55" width="2.4" height="2.4" fill="#fff" stroke="#b3cbe6" stroke-width="0.85"/>
<rect x="618.30" y="424.92" width="2.4" height="2.4" fill="#fff" stroke="#b3cbe6" stroke-width="0.85"/>
<rect x="621.50" y="424.30" width="2.4" height="2.4" fill="#fff" stroke="#b3cbe6" stroke-width="0.85"/>
<rect x="624.70" y="425.06" width="2.4" height="2.4" fill="#fff" stroke="#b3cbe6" stroke-width="0.85"/>
<rect x="627.90" y="425.82" width="2.4" height="2.4" fill="#fff" stroke="#b3cbe6" stroke-width="0.85"/>
<rect x="631.10" y="426.58" width="2.4" height="2.4" fill="#fff" stroke="#b3cbe6" stroke-width="0.85"/>
<rect x="634.30" y="426.15" width="2.4" height="2.4" fill="#fff" stroke="#b3cbe6" stroke-width="0.85"/>
<rect x="637.50" y="425.69" width="2.4" height="2.4" fill="#fff" stroke="#b3cbe6" stroke-width="0.85"/>
<rect x="640.70" y="425.23" width="2.4" height="2.4" fill="#fff" stroke="#b3cbe6" stroke-width="0.85"/>
<rect x="643.90" y="425.69" width="2.4" height="2.4" fill="#fff" stroke="#b3cbe6" stroke-width="0.85"/>
<rect x="647.10" y="426.22" width="2.4" height="2.4" fill="#fff" stroke="#b3cbe6" stroke-width="0.85"/>
<rect x="650.30" y="426.75" width="2.4" height="2.4" fill="#fff" stroke="#b3cbe6" stroke-width="0.85"/>
<rect x="653.50" y="426.50" width="2.4" height="2.4" fill="#fff" stroke="#b3cbe6" stroke-width="0.85"/>
<rect x="656.70" y="426.16" width="2.4" height="2.4" fill="#fff" stroke="#b3cbe6" stroke-width="0.85"/>
<rect x="659.90" y="425.83" width="2.4" height="2.4" fill="#fff" stroke="#b3cbe6" stroke-width="0.85"/>
<rect x="663.10" y="426.58" width="2.4" height="2.4" fill="#fff" stroke="#b3cbe6" stroke-width="0.85"/>
<rect x="666.30" y="427.43" width="2.4" height="2.4" fill="#fff" stroke="#b3cbe6" stroke-width="0.85"/>
<path d="M483.00,432.40 L506.00,432.40 L507.50,428.00 L508.40,419.90 L510.30,413.30 L513.10,417.10 L517.90,421.10 L525.00,423.50 L532.10,424.20 L539.20,422.30 L548.60,423.50 L555.00,422.60 L564.70,421.60 L576.30,419.70 L586.00,421.20 L593.70,419.30 L601.40,421.60 L609.20,420.10 L618.90,422.20 L628.50,421.20 L634.40,423.20 L642.10,421.60 L651.80,423.20 L659.50,422.00 L670.00,424.10" fill="none" stroke="#f4a3a3" stroke-width="1.0" stroke-linejoin="round" stroke-linecap="round" />
<rect x="483.90" y="431.20" width="2.4" height="2.4" fill="#fff" stroke="#f4a3a3" stroke-width="0.85" opacity="0.35"/>
<rect x="487.10" y="431.20" width="2.4" height="2.4" fill="#fff" stroke="#f4a3a3" stroke-width="0.85" opacity="0.35"/>
<rect x="490.30" y="431.20" width="2.4" height="2.4" fill="#fff" stroke="#f4a3a3" stroke-width="0.85" opacity="0.35"/>
<rect x="493.50" y="431.20" width="2.4" height="2.4" fill="#fff" stroke="#f4a3a3" stroke-width="0.85" opacity="0.35"/>
<rect x="496.70" y="431.20" width="2.4" height="2.4" fill="#fff" stroke="#f4a3a3" stroke-width="0.85" opacity="0.35"/>
<rect x="499.90" y="431.20" width="2.4" height="2.4" fill="#fff" stroke="#f4a3a3" stroke-width="0.85" opacity="0.35"/>
<rect x="503.10" y="431.20" width="2.4" height="2.4" fill="#fff" stroke="#f4a3a3" stroke-width="0.85" opacity="0.35"/>
<rect x="506.30" y="426.80" width="2.4" height="2.4" fill="#fff" stroke="#f4a3a3" stroke-width="0.85"/>
<rect x="509.50" y="412.64" width="2.4" height="2.4" fill="#fff" stroke="#f4a3a3" stroke-width="0.85"/>
<rect x="512.70" y="416.57" width="2.4" height="2.4" fill="#fff" stroke="#f4a3a3" stroke-width="0.85"/>
<rect x="515.90" y="419.23" width="2.4" height="2.4" fill="#fff" stroke="#f4a3a3" stroke-width="0.85"/>
<rect x="519.10" y="420.71" width="2.4" height="2.4" fill="#fff" stroke="#f4a3a3" stroke-width="0.85"/>
<rect x="522.30" y="421.79" width="2.4" height="2.4" fill="#fff" stroke="#f4a3a3" stroke-width="0.85"/>
<rect x="525.50" y="422.47" width="2.4" height="2.4" fill="#fff" stroke="#f4a3a3" stroke-width="0.85"/>
<rect x="528.70" y="422.78" width="2.4" height="2.4" fill="#fff" stroke="#f4a3a3" stroke-width="0.85"/>
<rect x="531.90" y="422.73" width="2.4" height="2.4" fill="#fff" stroke="#f4a3a3" stroke-width="0.85"/>
<rect x="535.10" y="421.88" width="2.4" height="2.4" fill="#fff" stroke="#f4a3a3" stroke-width="0.85"/>
<rect x="538.30" y="421.14" width="2.4" height="2.4" fill="#fff" stroke="#f4a3a3" stroke-width="0.85"/>
<rect x="541.50" y="421.55" width="2.4" height="2.4" fill="#fff" stroke="#f4a3a3" stroke-width="0.85"/>
<rect x="544.70" y="421.96" width="2.4" height="2.4" fill="#fff" stroke="#f4a3a3" stroke-width="0.85"/>
<rect x="547.90" y="422.23" width="2.4" height="2.4" fill="#fff" stroke="#f4a3a3" stroke-width="0.85"/>
<rect x="551.10" y="421.78" width="2.4" height="2.4" fill="#fff" stroke="#f4a3a3" stroke-width="0.85"/>
<rect x="554.30" y="421.35" width="2.4" height="2.4" fill="#fff" stroke="#f4a3a3" stroke-width="0.85"/>
<rect x="557.50" y="421.02" width="2.4" height="2.4" fill="#fff" stroke="#f4a3a3" stroke-width="0.85"/>
<rect x="560.70" y="420.69" width="2.4" height="2.4" fill="#fff" stroke="#f4a3a3" stroke-width="0.85"/>
<rect x="563.90" y="420.33" width="2.4" height="2.4" fill="#fff" stroke="#f4a3a3" stroke-width="0.85"/>
<rect x="567.10" y="419.81" width="2.4" height="2.4" fill="#fff" stroke="#f4a3a3" stroke-width="0.85"/>
<rect x="570.30" y="419.29" width="2.4" height="2.4" fill="#fff" stroke="#f4a3a3" stroke-width="0.85"/>
<rect x="573.50" y="418.76" width="2.4" height="2.4" fill="#fff" stroke="#f4a3a3" stroke-width="0.85"/>
<rect x="576.70" y="418.75" width="2.4" height="2.4" fill="#fff" stroke="#f4a3a3" stroke-width="0.85"/>
<rect x="579.90" y="419.24" width="2.4" height="2.4" fill="#fff" stroke="#f4a3a3" stroke-width="0.85"/>
<rect x="583.10" y="419.74" width="2.4" height="2.4" fill="#fff" stroke="#f4a3a3" stroke-width="0.85"/>
<rect x="586.30" y="419.63" width="2.4" height="2.4" fill="#fff" stroke="#f4a3a3" stroke-width="0.85"/>
<rect x="589.50" y="418.84" width="2.4" height="2.4" fill="#fff" stroke="#f4a3a3" stroke-width="0.85"/>
<rect x="592.70" y="418.16" width="2.4" height="2.4" fill="#fff" stroke="#f4a3a3" stroke-width="0.85"/>
<rect x="595.90" y="419.12" width="2.4" height="2.4" fill="#fff" stroke="#f4a3a3" stroke-width="0.85"/>
<rect x="599.10" y="420.07" width="2.4" height="2.4" fill="#fff" stroke="#f4a3a3" stroke-width="0.85"/>
<rect x="602.30" y="420.00" width="2.4" height="2.4" fill="#fff" stroke="#f4a3a3" stroke-width="0.85"/>
<rect x="605.50" y="419.38" width="2.4" height="2.4" fill="#fff" stroke="#f4a3a3" stroke-width="0.85"/>
<rect x="608.70" y="419.05" width="2.4" height="2.4" fill="#fff" stroke="#f4a3a3" stroke-width="0.85"/>
<rect x="611.90" y="419.74" width="2.4" height="2.4" fill="#fff" stroke="#f4a3a3" stroke-width="0.85"/>
<rect x="615.10" y="420.44" width="2.4" height="2.4" fill="#fff" stroke="#f4a3a3" stroke-width="0.85"/>
<rect x="618.30" y="420.94" width="2.4" height="2.4" fill="#fff" stroke="#f4a3a3" stroke-width="0.85"/>
<rect x="621.50" y="420.60" width="2.4" height="2.4" fill="#fff" stroke="#f4a3a3" stroke-width="0.85"/>
<rect x="624.70" y="420.27" width="2.4" height="2.4" fill="#fff" stroke="#f4a3a3" stroke-width="0.85"/>
<rect x="627.90" y="420.20" width="2.4" height="2.4" fill="#fff" stroke="#f4a3a3" stroke-width="0.85"/>
<rect x="631.10" y="421.29" width="2.4" height="2.4" fill="#fff" stroke="#f4a3a3" stroke-width="0.85"/>
<rect x="634.30" y="421.77" width="2.4" height="2.4" fill="#fff" stroke="#f4a3a3" stroke-width="0.85"/>
<rect x="637.50" y="421.11" width="2.4" height="2.4" fill="#fff" stroke="#f4a3a3" stroke-width="0.85"/>
<rect x="640.70" y="420.44" width="2.4" height="2.4" fill="#fff" stroke="#f4a3a3" stroke-width="0.85"/>
<rect x="643.90" y="420.89" width="2.4" height="2.4" fill="#fff" stroke="#f4a3a3" stroke-width="0.85"/>
<rect x="647.10" y="421.42" width="2.4" height="2.4" fill="#fff" stroke="#f4a3a3" stroke-width="0.85"/>
<rect x="650.30" y="421.95" width="2.4" height="2.4" fill="#fff" stroke="#f4a3a3" stroke-width="0.85"/>
<rect x="653.50" y="421.55" width="2.4" height="2.4" fill="#fff" stroke="#f4a3a3" stroke-width="0.85"/>
<rect x="656.70" y="421.05" width="2.4" height="2.4" fill="#fff" stroke="#f4a3a3" stroke-width="0.85"/>
<rect x="659.90" y="421.12" width="2.4" height="2.4" fill="#fff" stroke="#f4a3a3" stroke-width="0.85"/>
<rect x="663.10" y="421.76" width="2.4" height="2.4" fill="#fff" stroke="#f4a3a3" stroke-width="0.85"/>
<rect x="666.30" y="422.40" width="2.4" height="2.4" fill="#fff" stroke="#f4a3a3" stroke-width="0.85"/>
<path d="M483.00,432.40 L504.00,432.40 L504.90,431.80 L506.50,425.00 L507.90,417.60 L508.80,400.00 L509.60,386.80 L513.10,386.80 L516.70,389.20 L520.20,392.70 L523.80,397.50 L527.30,399.30 L534.40,400.50 L541.50,404.60 L548.60,405.70 L555.00,406.10 L560.00,406.20 L574.40,407.50 L593.70,407.70 L613.10,408.10 L632.40,408.40 L670.00,408.10" fill="none" stroke="#5a80b8" stroke-width="1.1" stroke-linejoin="round" stroke-linecap="round" />
<rect x="483.90" y="431.20" width="2.4" height="2.4" fill="#fff" stroke="#5a80b8" stroke-width="0.85" opacity="0.35"/>
<rect x="487.10" y="431.20" width="2.4" height="2.4" fill="#fff" stroke="#5a80b8" stroke-width="0.85" opacity="0.35"/>
<rect x="490.30" y="431.20" width="2.4" height="2.4" fill="#fff" stroke="#5a80b8" stroke-width="0.85" opacity="0.35"/>
<rect x="493.50" y="431.20" width="2.4" height="2.4" fill="#fff" stroke="#5a80b8" stroke-width="0.85" opacity="0.35"/>
<rect x="496.70" y="431.20" width="2.4" height="2.4" fill="#fff" stroke="#5a80b8" stroke-width="0.85" opacity="0.35"/>
<rect x="499.90" y="431.20" width="2.4" height="2.4" fill="#fff" stroke="#5a80b8" stroke-width="0.85" opacity="0.35"/>
<rect x="503.10" y="431.00" width="2.4" height="2.4" fill="#fff" stroke="#5a80b8" stroke-width="0.85" opacity="0.35"/>
<rect x="506.30" y="418.51" width="2.4" height="2.4" fill="#fff" stroke="#5a80b8" stroke-width="0.85"/>
<rect x="509.50" y="385.60" width="2.4" height="2.4" fill="#fff" stroke="#5a80b8" stroke-width="0.85"/>
<rect x="512.70" y="386.13" width="2.4" height="2.4" fill="#fff" stroke="#5a80b8" stroke-width="0.85"/>
<rect x="515.90" y="388.40" width="2.4" height="2.4" fill="#fff" stroke="#5a80b8" stroke-width="0.85"/>
<rect x="519.10" y="391.63" width="2.4" height="2.4" fill="#fff" stroke="#5a80b8" stroke-width="0.85"/>
<rect x="522.30" y="395.90" width="2.4" height="2.4" fill="#fff" stroke="#5a80b8" stroke-width="0.85"/>
<rect x="525.50" y="397.79" width="2.4" height="2.4" fill="#fff" stroke="#5a80b8" stroke-width="0.85"/>
<rect x="528.70" y="398.54" width="2.4" height="2.4" fill="#fff" stroke="#5a80b8" stroke-width="0.85"/>
<rect x="531.90" y="399.08" width="2.4" height="2.4" fill="#fff" stroke="#5a80b8" stroke-width="0.85"/>
<rect x="535.10" y="400.40" width="2.4" height="2.4" fill="#fff" stroke="#5a80b8" stroke-width="0.85"/>
<rect x="538.30" y="402.25" width="2.4" height="2.4" fill="#fff" stroke="#5a80b8" stroke-width="0.85"/>
<rect x="541.50" y="403.59" width="2.4" height="2.4" fill="#fff" stroke="#5a80b8" stroke-width="0.85"/>
<rect x="544.70" y="404.08" width="2.4" height="2.4" fill="#fff" stroke="#5a80b8" stroke-width="0.85"/>
<rect x="547.90" y="404.53" width="2.4" height="2.4" fill="#fff" stroke="#5a80b8" stroke-width="0.85"/>
<rect x="551.10" y="404.73" width="2.4" height="2.4" fill="#fff" stroke="#5a80b8" stroke-width="0.85"/>
<rect x="554.30" y="404.91" width="2.4" height="2.4" fill="#fff" stroke="#5a80b8" stroke-width="0.85"/>
<rect x="557.50" y="404.97" width="2.4" height="2.4" fill="#fff" stroke="#5a80b8" stroke-width="0.85"/>
<rect x="560.70" y="405.17" width="2.4" height="2.4" fill="#fff" stroke="#5a80b8" stroke-width="0.85"/>
<rect x="563.90" y="405.46" width="2.4" height="2.4" fill="#fff" stroke="#5a80b8" stroke-width="0.85"/>
<rect x="567.10" y="405.75" width="2.4" height="2.4" fill="#fff" stroke="#5a80b8" stroke-width="0.85"/>
<rect x="570.30" y="406.04" width="2.4" height="2.4" fill="#fff" stroke="#5a80b8" stroke-width="0.85"/>
<rect x="573.50" y="406.30" width="2.4" height="2.4" fill="#fff" stroke="#5a80b8" stroke-width="0.85"/>
<rect x="576.70" y="406.34" width="2.4" height="2.4" fill="#fff" stroke="#5a80b8" stroke-width="0.85"/>
<rect x="579.90" y="406.37" width="2.4" height="2.4" fill="#fff" stroke="#5a80b8" stroke-width="0.85"/>
<rect x="583.10" y="406.40" width="2.4" height="2.4" fill="#fff" stroke="#5a80b8" stroke-width="0.85"/>
<rect x="586.30" y="406.44" width="2.4" height="2.4" fill="#fff" stroke="#5a80b8" stroke-width="0.85"/>
<rect x="589.50" y="406.47" width="2.4" height="2.4" fill="#fff" stroke="#5a80b8" stroke-width="0.85"/>
<rect x="592.70" y="406.50" width="2.4" height="2.4" fill="#fff" stroke="#5a80b8" stroke-width="0.85"/>
<rect x="595.90" y="406.57" width="2.4" height="2.4" fill="#fff" stroke="#5a80b8" stroke-width="0.85"/>
<rect x="599.10" y="406.64" width="2.4" height="2.4" fill="#fff" stroke="#5a80b8" stroke-width="0.85"/>
<rect x="602.30" y="406.70" width="2.4" height="2.4" fill="#fff" stroke="#5a80b8" stroke-width="0.85"/>
<rect x="605.50" y="406.77" width="2.4" height="2.4" fill="#fff" stroke="#5a80b8" stroke-width="0.85"/>
<rect x="608.70" y="406.83" width="2.4" height="2.4" fill="#fff" stroke="#5a80b8" stroke-width="0.85"/>
<rect x="611.90" y="406.90" width="2.4" height="2.4" fill="#fff" stroke="#5a80b8" stroke-width="0.85"/>
<rect x="615.10" y="406.95" width="2.4" height="2.4" fill="#fff" stroke="#5a80b8" stroke-width="0.85"/>
<rect x="618.30" y="407.00" width="2.4" height="2.4" fill="#fff" stroke="#5a80b8" stroke-width="0.85"/>
<rect x="621.50" y="407.05" width="2.4" height="2.4" fill="#fff" stroke="#5a80b8" stroke-width="0.85"/>
<rect x="624.70" y="407.10" width="2.4" height="2.4" fill="#fff" stroke="#5a80b8" stroke-width="0.85"/>
<rect x="627.90" y="407.15" width="2.4" height="2.4" fill="#fff" stroke="#5a80b8" stroke-width="0.85"/>
<rect x="631.10" y="407.20" width="2.4" height="2.4" fill="#fff" stroke="#5a80b8" stroke-width="0.85"/>
<rect x="634.30" y="407.18" width="2.4" height="2.4" fill="#fff" stroke="#5a80b8" stroke-width="0.85"/>
<rect x="637.50" y="407.15" width="2.4" height="2.4" fill="#fff" stroke="#5a80b8" stroke-width="0.85"/>
<rect x="640.70" y="407.12" width="2.4" height="2.4" fill="#fff" stroke="#5a80b8" stroke-width="0.85"/>
<rect x="643.90" y="407.10" width="2.4" height="2.4" fill="#fff" stroke="#5a80b8" stroke-width="0.85"/>
<rect x="647.10" y="407.07" width="2.4" height="2.4" fill="#fff" stroke="#5a80b8" stroke-width="0.85"/>
<rect x="650.30" y="407.05" width="2.4" height="2.4" fill="#fff" stroke="#5a80b8" stroke-width="0.85"/>
<rect x="653.50" y="407.02" width="2.4" height="2.4" fill="#fff" stroke="#5a80b8" stroke-width="0.85"/>
<rect x="656.70" y="407.00" width="2.4" height="2.4" fill="#fff" stroke="#5a80b8" stroke-width="0.85"/>
<rect x="659.90" y="406.97" width="2.4" height="2.4" fill="#fff" stroke="#5a80b8" stroke-width="0.85"/>
<rect x="663.10" y="406.95" width="2.4" height="2.4" fill="#fff" stroke="#5a80b8" stroke-width="0.85"/>
<rect x="666.30" y="406.92" width="2.4" height="2.4" fill="#fff" stroke="#5a80b8" stroke-width="0.85"/>
<path d="M483.00,432.40 L495.00,432.40 L495.40,432.00 L497.80,414.00 L501.30,393.40 L504.10,377.30 L506.00,373.80 L506.60,360.00 L507.20,326.40 L508.30,300.00 L509.30,283.40 L510.60,292.40 L512.00,305.00 L513.70,317.80 L515.20,326.00 L517.00,331.90 L518.50,336.00 L520.10,340.50 L523.50,346.60 L526.60,353.70 L529.70,360.80 L532.50,363.60 L538.00,365.00 L542.70,367.90 L547.50,372.60 L552.20,373.80 L555.00,374.20 L560.00,375.50 L564.70,379.00 L574.40,379.40 L582.10,382.50 L593.70,383.90 L601.40,385.80 L613.10,386.80 L620.80,388.10 L632.40,389.70 L642.10,389.30 L651.80,390.30 L663.40,390.60 L670.00,391.20" fill="none" stroke="#ee3434" stroke-width="1.1" stroke-linejoin="round" stroke-linecap="round" />
<rect x="483.90" y="431.20" width="2.4" height="2.4" fill="#fff" stroke="#ee3434" stroke-width="0.85" opacity="0.35"/>
<rect x="487.10" y="431.20" width="2.4" height="2.4" fill="#fff" stroke="#ee3434" stroke-width="0.85" opacity="0.35"/>
<rect x="490.30" y="431.20" width="2.4" height="2.4" fill="#fff" stroke="#ee3434" stroke-width="0.85" opacity="0.35"/>
<rect x="493.50" y="431.20" width="2.4" height="2.4" fill="#fff" stroke="#ee3434" stroke-width="0.85" opacity="0.35"/>
<rect x="496.70" y="412.21" width="2.4" height="2.4" fill="#fff" stroke="#ee3434" stroke-width="0.85"/>
<rect x="499.90" y="393.38" width="2.4" height="2.4" fill="#fff" stroke="#ee3434" stroke-width="0.85"/>
<rect x="503.10" y="375.73" width="2.4" height="2.4" fill="#fff" stroke="#ee3434" stroke-width="0.85"/>
<rect x="506.30" y="318.00" width="2.4" height="2.4" fill="#fff" stroke="#ee3434" stroke-width="0.85"/>
<rect x="509.50" y="292.10" width="2.4" height="2.4" fill="#fff" stroke="#ee3434" stroke-width="0.85"/>
<rect x="512.70" y="317.69" width="2.4" height="2.4" fill="#fff" stroke="#ee3434" stroke-width="0.85"/>
<rect x="515.90" y="330.97" width="2.4" height="2.4" fill="#fff" stroke="#ee3434" stroke-width="0.85"/>
<rect x="519.10" y="339.66" width="2.4" height="2.4" fill="#fff" stroke="#ee3434" stroke-width="0.85"/>
<rect x="522.30" y="345.40" width="2.4" height="2.4" fill="#fff" stroke="#ee3434" stroke-width="0.85"/>
<rect x="525.50" y="352.73" width="2.4" height="2.4" fill="#fff" stroke="#ee3434" stroke-width="0.85"/>
<rect x="528.70" y="359.80" width="2.4" height="2.4" fill="#fff" stroke="#ee3434" stroke-width="0.85"/>
<rect x="531.90" y="362.55" width="2.4" height="2.4" fill="#fff" stroke="#ee3434" stroke-width="0.85"/>
<rect x="535.10" y="363.37" width="2.4" height="2.4" fill="#fff" stroke="#ee3434" stroke-width="0.85"/>
<rect x="538.30" y="364.73" width="2.4" height="2.4" fill="#fff" stroke="#ee3434" stroke-width="0.85"/>
<rect x="541.50" y="366.70" width="2.4" height="2.4" fill="#fff" stroke="#ee3434" stroke-width="0.85"/>
<rect x="544.70" y="369.83" width="2.4" height="2.4" fill="#fff" stroke="#ee3434" stroke-width="0.85"/>
<rect x="547.90" y="371.81" width="2.4" height="2.4" fill="#fff" stroke="#ee3434" stroke-width="0.85"/>
<rect x="551.10" y="372.61" width="2.4" height="2.4" fill="#fff" stroke="#ee3434" stroke-width="0.85"/>
<rect x="554.30" y="373.13" width="2.4" height="2.4" fill="#fff" stroke="#ee3434" stroke-width="0.85"/>
<rect x="557.50" y="373.96" width="2.4" height="2.4" fill="#fff" stroke="#ee3434" stroke-width="0.85"/>
<rect x="560.70" y="375.71" width="2.4" height="2.4" fill="#fff" stroke="#ee3434" stroke-width="0.85"/>
<rect x="563.90" y="377.82" width="2.4" height="2.4" fill="#fff" stroke="#ee3434" stroke-width="0.85"/>
<rect x="567.10" y="377.95" width="2.4" height="2.4" fill="#fff" stroke="#ee3434" stroke-width="0.85"/>
<rect x="570.30" y="378.08" width="2.4" height="2.4" fill="#fff" stroke="#ee3434" stroke-width="0.85"/>
<rect x="573.50" y="378.32" width="2.4" height="2.4" fill="#fff" stroke="#ee3434" stroke-width="0.85"/>
<rect x="576.70" y="379.61" width="2.4" height="2.4" fill="#fff" stroke="#ee3434" stroke-width="0.85"/>
<rect x="579.90" y="380.90" width="2.4" height="2.4" fill="#fff" stroke="#ee3434" stroke-width="0.85"/>
<rect x="583.10" y="381.57" width="2.4" height="2.4" fill="#fff" stroke="#ee3434" stroke-width="0.85"/>
<rect x="586.30" y="381.95" width="2.4" height="2.4" fill="#fff" stroke="#ee3434" stroke-width="0.85"/>
<rect x="589.50" y="382.34" width="2.4" height="2.4" fill="#fff" stroke="#ee3434" stroke-width="0.85"/>
<rect x="592.70" y="382.75" width="2.4" height="2.4" fill="#fff" stroke="#ee3434" stroke-width="0.85"/>
<rect x="595.90" y="383.54" width="2.4" height="2.4" fill="#fff" stroke="#ee3434" stroke-width="0.85"/>
<rect x="599.10" y="384.33" width="2.4" height="2.4" fill="#fff" stroke="#ee3434" stroke-width="0.85"/>
<rect x="602.30" y="384.78" width="2.4" height="2.4" fill="#fff" stroke="#ee3434" stroke-width="0.85"/>
<rect x="605.50" y="385.05" width="2.4" height="2.4" fill="#fff" stroke="#ee3434" stroke-width="0.85"/>
<rect x="608.70" y="385.33" width="2.4" height="2.4" fill="#fff" stroke="#ee3434" stroke-width="0.85"/>
<rect x="611.90" y="385.60" width="2.4" height="2.4" fill="#fff" stroke="#ee3434" stroke-width="0.85"/>
<rect x="615.10" y="386.14" width="2.4" height="2.4" fill="#fff" stroke="#ee3434" stroke-width="0.85"/>
<rect x="618.30" y="386.68" width="2.4" height="2.4" fill="#fff" stroke="#ee3434" stroke-width="0.85"/>
<rect x="621.50" y="387.16" width="2.4" height="2.4" fill="#fff" stroke="#ee3434" stroke-width="0.85"/>
<rect x="624.70" y="387.60" width="2.4" height="2.4" fill="#fff" stroke="#ee3434" stroke-width="0.85"/>
<rect x="627.90" y="388.04" width="2.4" height="2.4" fill="#fff" stroke="#ee3434" stroke-width="0.85"/>
<rect x="631.10" y="388.49" width="2.4" height="2.4" fill="#fff" stroke="#ee3434" stroke-width="0.85"/>
<rect x="634.30" y="388.37" width="2.4" height="2.4" fill="#fff" stroke="#ee3434" stroke-width="0.85"/>
<rect x="637.50" y="388.24" width="2.4" height="2.4" fill="#fff" stroke="#ee3434" stroke-width="0.85"/>
<rect x="640.70" y="388.11" width="2.4" height="2.4" fill="#fff" stroke="#ee3434" stroke-width="0.85"/>
<rect x="643.90" y="388.41" width="2.4" height="2.4" fill="#fff" stroke="#ee3434" stroke-width="0.85"/>
<rect x="647.10" y="388.74" width="2.4" height="2.4" fill="#fff" stroke="#ee3434" stroke-width="0.85"/>
<rect x="650.30" y="389.07" width="2.4" height="2.4" fill="#fff" stroke="#ee3434" stroke-width="0.85"/>
<rect x="653.50" y="389.18" width="2.4" height="2.4" fill="#fff" stroke="#ee3434" stroke-width="0.85"/>
<rect x="656.70" y="389.26" width="2.4" height="2.4" fill="#fff" stroke="#ee3434" stroke-width="0.85"/>
<rect x="659.90" y="389.34" width="2.4" height="2.4" fill="#fff" stroke="#ee3434" stroke-width="0.85"/>
<rect x="663.10" y="389.48" width="2.4" height="2.4" fill="#fff" stroke="#ee3434" stroke-width="0.85"/>
<rect x="666.30" y="389.77" width="2.4" height="2.4" fill="#fff" stroke="#ee3434" stroke-width="0.85"/>
<line x1="549.2" y1="254.7" x2="568.2" y2="254.7" stroke="#ee3434" stroke-width="1.4"/>
<circle cx="558.8" cy="254.7" r="1.4" fill="#fff" stroke="#ee3434" stroke-width="0.8"/>
<line x1="549.2" y1="272.1" x2="568.2" y2="272.1" stroke="#f4a3a3" stroke-width="1.4"/>
<circle cx="558.8" cy="272.1" r="1.4" fill="#fff" stroke="#f4a3a3" stroke-width="0.8"/>
<line x1="549.2" y1="288.6" x2="568.2" y2="288.6" stroke="#5a80b8" stroke-width="1.4"/>
<circle cx="558.8" cy="288.6" r="1.4" fill="#fff" stroke="#5a80b8" stroke-width="0.8"/>
<line x1="549.2" y1="305.8" x2="568.2" y2="305.8" stroke="#b3cbe6" stroke-width="1.4"/>
<circle cx="558.8" cy="305.8" r="1.4" fill="#fff" stroke="#b3cbe6" stroke-width="0.8"/>
<text x="570.8" y="259.0" font-size="11.5" text-anchor="start" font-weight="normal" fill="#1a1a1a" >Mn<tspan font-size="8.5" dx="0.2" dy="3.40">2</tspan><tspan dx="0.9" dy="-3.40">O</tspan><tspan font-size="8.5" dx="0.2" dy="3.40">3</tspan><tspan dx="0.9" dy="-3.40">/SMO </tspan><tspan font-size="8.5" dx="0.3" dy="-4.70">46</tspan><tspan dx="0.9" dy="4.70">NO</tspan><tspan font-size="8.5" dx="0.2" dy="3.40">2</tspan></text>
<text x="570.8" y="275.8" font-size="11.5" text-anchor="start" font-weight="normal" fill="#1a1a1a" >Mn<tspan font-size="8.5" dx="0.2" dy="3.40">2</tspan><tspan dx="0.9" dy="-3.40">O</tspan><tspan font-size="8.5" dx="0.2" dy="3.40">3</tspan><tspan dx="0.9" dy="-3.40">/SMO </tspan><tspan font-size="8.5" dx="0.3" dy="-4.70">48</tspan><tspan dx="0.9" dy="4.70">NO</tspan><tspan font-size="8.5" dx="0.2" dy="3.40">2</tspan></text>
<text x="570.8" y="293.1" font-size="11.5" text-anchor="start" font-weight="normal" fill="#1a1a1a" >SMO <tspan font-size="8.5" dx="0.3" dy="-4.70">46</tspan><tspan dx="0.9" dy="4.70">NO</tspan><tspan font-size="8.5" dx="0.2" dy="3.40">2</tspan></text>
<text x="570.8" y="309.5" font-size="11.5" text-anchor="start" font-weight="normal" fill="#1a1a1a" >SMO <tspan font-size="8.5" dx="0.3" dy="-4.70">48</tspan><tspan dx="0.9" dy="4.70">NO</tspan><tspan font-size="8.5" dx="0.2" dy="3.40">2</tspan></text>
<line x1="628.6" y1="316.7" x2="628.6" y2="350.9" stroke="#333" stroke-width="1"/>
<line x1="626.9" y1="316.7" x2="630.3000000000001" y2="316.7" stroke="#333" stroke-width="1"/>
<line x1="626.9" y1="350.9" x2="630.3000000000001" y2="350.9" stroke="#333" stroke-width="1"/>
<text x="631.0" y="337.7" font-size="11.5" text-anchor="start" font-weight="normal" fill="#1a1a1a" >5×10<tspan font-size="8.5" dx="0.3" dy="-4.70">-13</tspan></text>
</svg>
</body></html>
